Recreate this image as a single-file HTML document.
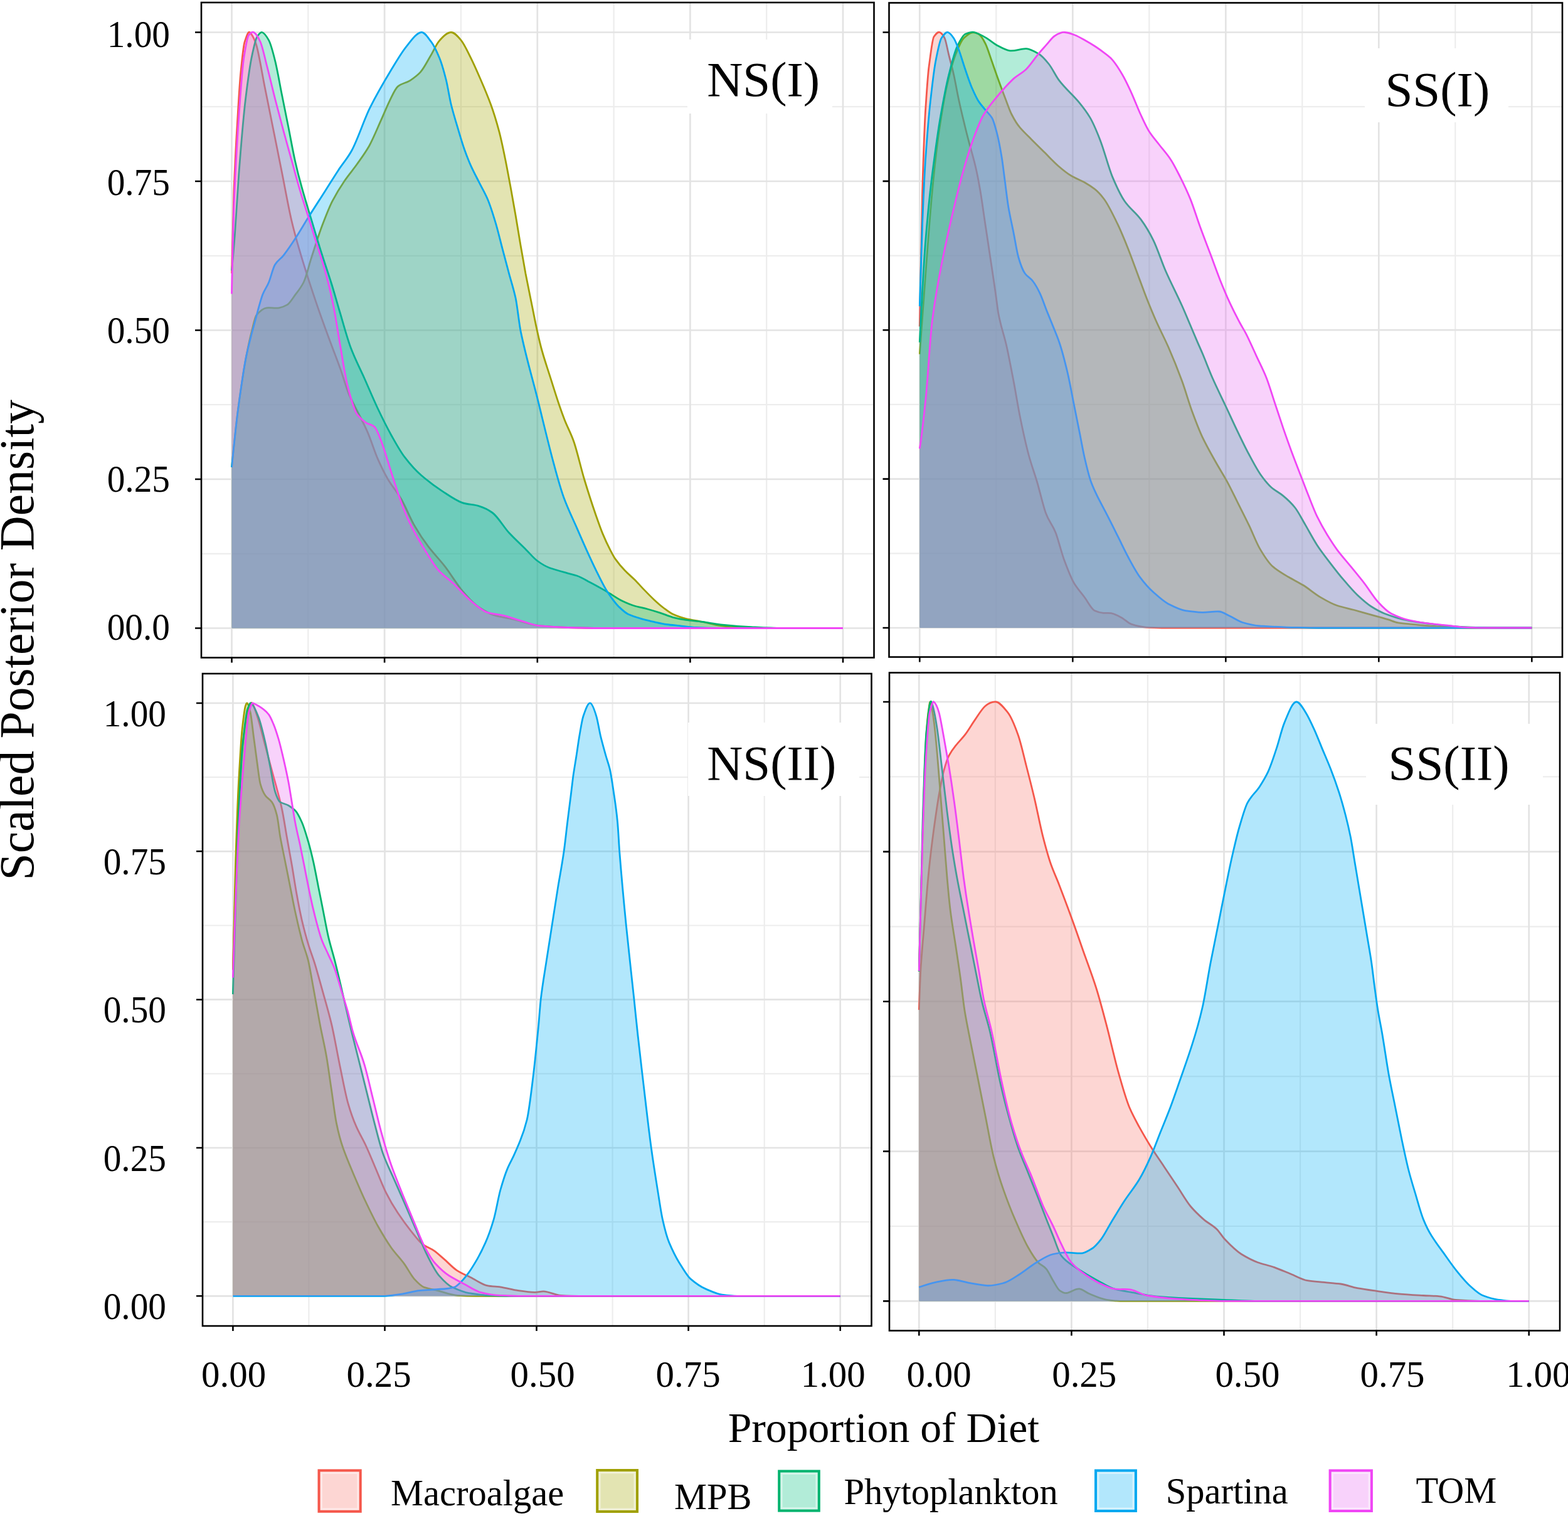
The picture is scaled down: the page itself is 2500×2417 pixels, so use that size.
<!DOCTYPE html>
<html><head><meta charset="utf-8"><title>Scaled Posterior Density</title>
<style>
html,body{margin:0;padding:0;background:#fff;width:2500px;height:2417px;overflow:hidden}
svg{display:block}
text{font-family:"Liberation Serif","Times New Roman",serif;fill:#000}
.tk{font-size:61px}
.tx{font-size:59.5px}
.pl{font-size:79px}
.ti{font-size:67.7px}
.yt{font-size:77.5px}
.lg{font-size:58.5px}
</style></head><body>
<svg xmlns="http://www.w3.org/2000/svg" width="2500" height="2417" viewBox="0 0 2500 2417">
<rect x="0" y="0" width="2500" height="2417" fill="#fff"/>
<clipPath id="cTL"><rect x="320.8" y="4" width="1071.9" height="1045"/></clipPath>
<g clip-path="url(#cTL)">
<path d="M491.3,4V1049M320.8,882.8H1392.7M734.9,4V1049M320.8,645.2H1392.7M978.6,4V1049M320.8,407.8H1392.7M1222.2,4V1049M320.8,170.2H1392.7" stroke="#EDEDED" stroke-width="2.2" fill="none"/>
<path d="M369.5,4V1049M320.8,1001.5H1392.7M613.1,4V1049M320.8,764H1392.7M856.8,4V1049M320.8,526.5H1392.7M1100.4,4V1049M320.8,289H1392.7M1344,4V1049M320.8,51.5H1392.7" stroke="#E3E3E3" stroke-width="2.7" fill="none"/>
<path d="M369.5,435.8C370.6,384.3 371.8,332.3 372.9,304.2C374.7,260.8 376.4,227.4 378.2,198.8C380,169.6 381.7,137.3 383.5,118.9C385.7,96.6 387.9,73.1 390.1,66.7C392.7,59 395.3,49.8 398,51.5C400.2,53 402.4,56.8 404.6,61C406,63.8 407.5,67.4 409,72.7C413.3,88.3 417.7,116.2 422,137.9C426.4,159.7 430.7,181.6 435.1,203.3C439.5,225.2 443.9,246.7 448.2,268.6C453.7,295.6 459.1,326.8 464.5,350.2C468.9,369 473.2,384.2 477.6,399.2C481.9,414.2 486.3,428 490.6,441.6C496.1,458.5 501.5,474.9 506.9,490.6C512.4,506.4 517.8,521.4 523.3,536.3C529.8,554.1 536.3,570.2 542.9,588.6C547.2,600.9 551.6,617.2 555.9,627.8C558.7,634.6 561.6,639.5 564.4,645.2C571.5,659.8 578.7,672.2 585.8,688.4C591.3,700.8 596.8,719 602.2,731.4C607.6,743.6 612.9,754.5 618.3,763.7C625.5,776.1 632.7,783.4 639.9,796C647.1,808.5 654.2,826.8 661.4,839C668.5,851.4 675.7,861.9 682.9,871.4C691.9,883.2 700.8,892 709.8,903.6C718.8,915.3 727.7,930.7 736.7,941.3C745.7,951.9 754.7,962.4 763.7,968.2C772.6,974 781.6,979.5 790.5,981.7C799.6,984.1 808.7,985.1 817.8,987.2C831.7,990.5 845.7,996.2 859.7,997.7C874.9,999.3 890.2,1000.2 905.5,1000.5C921.7,1000.9 938,1001.4 954.2,1001.5L1344,1001.5L1344,1001.5L369.5,1001.5Z" fill="#F8766D" fill-opacity="0.3" stroke="none"/>
<path d="M369.5,435.8C370.6,384.3 371.8,332.3 372.9,304.2C374.7,260.8 376.4,227.4 378.2,198.8C380,169.6 381.7,137.3 383.5,118.9C385.7,96.6 387.9,73.1 390.1,66.7C392.7,59 395.3,49.8 398,51.5C400.2,53 402.4,56.8 404.6,61C406,63.8 407.5,67.4 409,72.7C413.3,88.3 417.7,116.2 422,137.9C426.4,159.7 430.7,181.6 435.1,203.3C439.5,225.2 443.9,246.7 448.2,268.6C453.7,295.6 459.1,326.8 464.5,350.2C468.9,369 473.2,384.2 477.6,399.2C481.9,414.2 486.3,428 490.6,441.6C496.1,458.5 501.5,474.9 506.9,490.6C512.4,506.4 517.8,521.4 523.3,536.3C529.8,554.1 536.3,570.2 542.9,588.6C547.2,600.9 551.6,617.2 555.9,627.8C558.7,634.6 561.6,639.5 564.4,645.2C571.5,659.8 578.7,672.2 585.8,688.4C591.3,700.8 596.8,719 602.2,731.4C607.6,743.6 612.9,754.5 618.3,763.7C625.5,776.1 632.7,783.4 639.9,796C647.1,808.5 654.2,826.8 661.4,839C668.5,851.4 675.7,861.9 682.9,871.4C691.9,883.2 700.8,892 709.8,903.6C718.8,915.3 727.7,930.7 736.7,941.3C745.7,951.9 754.7,962.4 763.7,968.2C772.6,974 781.6,979.5 790.5,981.7C799.6,984.1 808.7,985.1 817.8,987.2C831.7,990.5 845.7,996.2 859.7,997.7C874.9,999.3 890.2,1000.2 905.5,1000.5C921.7,1000.9 938,1001.4 954.2,1001.5L1344,1001.5" fill="none" stroke="#F5574B" stroke-width="2.8" stroke-linejoin="round"/>
<path d="M369.5,745C372.9,710.6 376.3,677.5 379.6,652.4C384,620 388.3,590.4 392.7,567.6C395.7,552 398.7,537.9 401.7,526.5C404.1,517.2 406.5,504.9 409,502.2C414.4,496 419.9,491.2 425.3,490.8C431.9,490.3 438.4,491.7 444.9,490.8C449.3,490.2 453.6,488.5 458,485.9C462.3,483.3 466.7,475.4 471,469.6C475.4,463.8 479.7,459 484.1,450C488.4,441.2 492.7,422.2 497.1,409C502.6,392.2 508,374.6 513.5,360C519,345.5 524.4,331.3 529.8,320.8C536.3,308.2 542.9,297.7 549.4,288.2C555.9,278.7 562.5,271.2 569,262C575.5,252.8 582,244.2 588.6,232.7C595.1,221.1 601.6,204.6 608.2,190.2C612.5,180.6 616.9,169.5 621.2,160.8C625.6,152 629.9,141.6 634.3,137.9C640.8,132.5 647.3,132.6 653.9,128.3C659.3,124.7 664.8,121 670.2,115.1C675.7,109.3 681.1,98.1 686.5,89C690.9,81.7 695.2,71.4 699.6,66.1C706.1,58.2 712.6,51.5 719.2,51.5C724.4,51.5 729.7,57.6 734.9,63.9C740.2,70.1 745.5,82.1 750.8,92.7C756.1,103.3 761.3,115.4 766.6,127.5C771.9,139.7 777.2,152.1 782.5,166.5C786.9,178.4 791.3,192.7 795.7,209.2C799.2,222.2 802.7,239.6 806.2,256.7C808.8,269.6 811.4,284.2 814.1,298.5C816.7,313 819.4,328 822.1,343.4C824.7,358.8 827.4,375.5 830,390.9C832.7,406.2 835.3,421.8 837.9,435.8C841.5,454.4 845,471.1 848.5,488.5C851.1,501.7 853.8,515.7 856.5,527.6C859.1,539.4 861.7,550.8 864.4,560C868.2,573.7 872.1,584.8 875.9,596.9C881.2,613.3 886.4,630.4 891.6,645.7C894.4,653.9 897.2,661.7 900,669C905.1,682.1 910.1,690.1 915.1,704.7C920.5,720.5 926,745.5 931.4,763.5C937.5,783.7 943.5,802.4 949.6,820C953.4,830.8 957.1,841.7 960.8,850.6C964.9,860.5 969,869.3 973.1,877.1C975.8,882.3 978.5,887.6 981.2,891.4C986.3,898.6 991.4,904.6 996.5,909.8C1001.6,915.1 1006.6,919 1011.7,924.1C1016.8,929.2 1022,935.1 1027.1,940.4C1032.2,945.7 1037.3,951 1042.4,955.7C1047.5,960.5 1052.7,965.2 1057.8,969C1062.9,972.8 1068,976.9 1073.1,979.2C1079.9,982.2 1086.7,984.8 1093.5,986.3C1102.3,988.3 1111.1,989.6 1120,991.4C1129.7,993.4 1139.4,996.3 1149.1,997.7C1158.8,999.1 1168.6,1000.2 1178.3,1000.5C1191.3,1001 1204.3,1001.4 1217.3,1001.5L1344,1001.5L1344,1001.5L369.5,1001.5Z" fill="#A3A500" fill-opacity="0.3" stroke="none"/>
<path d="M369.5,745C372.9,710.6 376.3,677.5 379.6,652.4C384,620 388.3,590.4 392.7,567.6C395.7,552 398.7,537.9 401.7,526.5C404.1,517.2 406.5,504.9 409,502.2C414.4,496 419.9,491.2 425.3,490.8C431.9,490.3 438.4,491.7 444.9,490.8C449.3,490.2 453.6,488.5 458,485.9C462.3,483.3 466.7,475.4 471,469.6C475.4,463.8 479.7,459 484.1,450C488.4,441.2 492.7,422.2 497.1,409C502.6,392.2 508,374.6 513.5,360C519,345.5 524.4,331.3 529.8,320.8C536.3,308.2 542.9,297.7 549.4,288.2C555.9,278.7 562.5,271.2 569,262C575.5,252.8 582,244.2 588.6,232.7C595.1,221.1 601.6,204.6 608.2,190.2C612.5,180.6 616.9,169.5 621.2,160.8C625.6,152 629.9,141.6 634.3,137.9C640.8,132.5 647.3,132.6 653.9,128.3C659.3,124.7 664.8,121 670.2,115.1C675.7,109.3 681.1,98.1 686.5,89C690.9,81.7 695.2,71.4 699.6,66.1C706.1,58.2 712.6,51.5 719.2,51.5C724.4,51.5 729.7,57.6 734.9,63.9C740.2,70.1 745.5,82.1 750.8,92.7C756.1,103.3 761.3,115.4 766.6,127.5C771.9,139.7 777.2,152.1 782.5,166.5C786.9,178.4 791.3,192.7 795.7,209.2C799.2,222.2 802.7,239.6 806.2,256.7C808.8,269.6 811.4,284.2 814.1,298.5C816.7,313 819.4,328 822.1,343.4C824.7,358.8 827.4,375.5 830,390.9C832.7,406.2 835.3,421.8 837.9,435.8C841.5,454.4 845,471.1 848.5,488.5C851.1,501.7 853.8,515.7 856.5,527.6C859.1,539.4 861.7,550.8 864.4,560C868.2,573.7 872.1,584.8 875.9,596.9C881.2,613.3 886.4,630.4 891.6,645.7C894.4,653.9 897.2,661.7 900,669C905.1,682.1 910.1,690.1 915.1,704.7C920.5,720.5 926,745.5 931.4,763.5C937.5,783.7 943.5,802.4 949.6,820C953.4,830.8 957.1,841.7 960.8,850.6C964.9,860.5 969,869.3 973.1,877.1C975.8,882.3 978.5,887.6 981.2,891.4C986.3,898.6 991.4,904.6 996.5,909.8C1001.6,915.1 1006.6,919 1011.7,924.1C1016.8,929.2 1022,935.1 1027.1,940.4C1032.2,945.7 1037.3,951 1042.4,955.7C1047.5,960.5 1052.7,965.2 1057.8,969C1062.9,972.8 1068,976.9 1073.1,979.2C1079.9,982.2 1086.7,984.8 1093.5,986.3C1102.3,988.3 1111.1,989.6 1120,991.4C1129.7,993.4 1139.4,996.3 1149.1,997.7C1158.8,999.1 1168.6,1000.2 1178.3,1000.5C1191.3,1001 1204.3,1001.4 1217.3,1001.5L1344,1001.5" fill="none" stroke="#A0A000" stroke-width="2.8" stroke-linejoin="round"/>
<path d="M369.5,431.5C371.1,415.9 372.7,395.9 374.4,374.5C376.5,346.2 378.7,305.3 380.8,277.6C384.3,231.9 387.9,188 391.4,158.9C394.9,130 398.4,103.4 402,87.6C404.6,75.6 407.3,62.4 409.9,58.5C412.6,54.7 415.2,50.9 417.8,51.5C421.3,52.3 424.9,57.7 428.4,63.9C431.9,70 435.4,83.8 438.9,98.1C442.4,112.3 445.9,133.3 449.4,150.8C452.9,168.4 456.5,185.7 460,203.5C463.5,221 467,241.2 470.5,256.7C474,272.5 477.5,285.8 481.1,298.5C486.3,317.3 491.6,334.2 496.9,351.7C502.2,369.3 507.5,387.2 512.8,404C517.9,420.4 523.1,434.7 528.3,451.5C532.9,466.1 537.4,482.8 542,498C547.7,517.1 553.4,538.9 559.1,554C566.3,573.1 573.5,586.4 580.7,602.5C587.9,618.7 595,635.8 602.2,651C609.4,666.2 616.6,680.8 623.8,693.7C631,706.5 638.1,719.6 645.3,728.9C654.2,740.5 663.2,750.6 672.2,758.3C683,767.5 693.7,775.6 704.5,782.6C715.3,789.6 726,797.5 736.7,801.4C745.7,804.7 754.7,804.1 763.7,806.8C770.9,808.9 778,812.2 785.2,817.5C794.1,824 803,840.2 811.9,849.8C821,859.5 830,867.7 839,876.7C844.8,882.4 850.6,889.6 856.5,894C863,898.8 869.5,902.8 875.9,905.2C885.3,908.5 894.6,911 903.9,913.6C909.3,915.2 914.6,916.1 920,918C926.8,920.4 933.6,924.6 940.4,928.2C947.2,931.7 954,935.5 960.8,939.4C965.9,942.3 971,945.5 976.1,948.6C981.2,951.7 986.3,955.3 991.4,957.8C998.2,961.1 1004.9,964 1011.7,966C1018.5,968 1025.3,969.1 1032.2,971C1039,972.9 1045.8,974.9 1052.6,977.1C1059.4,979.3 1066.3,982.5 1073.1,984.3C1079.9,986.1 1086.7,987.4 1093.5,988.4C1102.3,989.6 1111.1,990.2 1120,991.4C1129.7,992.7 1139.4,994.8 1149.1,995.8C1165.3,997.5 1181.6,998.8 1197.8,999.6C1214.1,1000.4 1230.3,1001.3 1246.6,1001.5L1344,1001.5L1344,1001.5L369.5,1001.5Z" fill="#00BF7D" fill-opacity="0.3" stroke="none"/>
<path d="M369.5,431.5C371.1,415.9 372.7,395.9 374.4,374.5C376.5,346.2 378.7,305.3 380.8,277.6C384.3,231.9 387.9,188 391.4,158.9C394.9,130 398.4,103.4 402,87.6C404.6,75.6 407.3,62.4 409.9,58.5C412.6,54.7 415.2,50.9 417.8,51.5C421.3,52.3 424.9,57.7 428.4,63.9C431.9,70 435.4,83.8 438.9,98.1C442.4,112.3 445.9,133.3 449.4,150.8C452.9,168.4 456.5,185.7 460,203.5C463.5,221 467,241.2 470.5,256.7C474,272.5 477.5,285.8 481.1,298.5C486.3,317.3 491.6,334.2 496.9,351.7C502.2,369.3 507.5,387.2 512.8,404C517.9,420.4 523.1,434.7 528.3,451.5C532.9,466.1 537.4,482.8 542,498C547.7,517.1 553.4,538.9 559.1,554C566.3,573.1 573.5,586.4 580.7,602.5C587.9,618.7 595,635.8 602.2,651C609.4,666.2 616.6,680.8 623.8,693.7C631,706.5 638.1,719.6 645.3,728.9C654.2,740.5 663.2,750.6 672.2,758.3C683,767.5 693.7,775.6 704.5,782.6C715.3,789.6 726,797.5 736.7,801.4C745.7,804.7 754.7,804.1 763.7,806.8C770.9,808.9 778,812.2 785.2,817.5C794.1,824 803,840.2 811.9,849.8C821,859.5 830,867.7 839,876.7C844.8,882.4 850.6,889.6 856.5,894C863,898.8 869.5,902.8 875.9,905.2C885.3,908.5 894.6,911 903.9,913.6C909.3,915.2 914.6,916.1 920,918C926.8,920.4 933.6,924.6 940.4,928.2C947.2,931.7 954,935.5 960.8,939.4C965.9,942.3 971,945.5 976.1,948.6C981.2,951.7 986.3,955.3 991.4,957.8C998.2,961.1 1004.9,964 1011.7,966C1018.5,968 1025.3,969.1 1032.2,971C1039,972.9 1045.8,974.9 1052.6,977.1C1059.4,979.3 1066.3,982.5 1073.1,984.3C1079.9,986.1 1086.7,987.4 1093.5,988.4C1102.3,989.6 1111.1,990.2 1120,991.4C1129.7,992.7 1139.4,994.8 1149.1,995.8C1165.3,997.5 1181.6,998.8 1197.8,999.6C1214.1,1000.4 1230.3,1001.3 1246.6,1001.5L1344,1001.5" fill="none" stroke="#00B36E" stroke-width="2.8" stroke-linejoin="round"/>
<path d="M369.5,745C372.9,710.6 376.3,677.6 379.6,652.4C384,619.9 388.3,588.2 392.7,567.6C397,547.1 401.4,531.3 405.8,515.3C410.1,499.3 414.5,481.2 418.8,469.6C422.1,461 425.3,458 428.6,450C431.8,442 435.1,427.5 438.4,422C443,414.2 447.7,413 452.3,406.8C458.5,398.6 464.7,389.6 470.8,380.2C477.9,369.5 484.9,357.2 491.9,346C500.8,331.8 509.7,318.2 518.6,304.2C525.4,293.5 532.2,282.4 539.1,271.9C546.2,260.9 553.4,253.4 560.5,240.5C570.2,223 580,191.7 589.7,172.1C601.1,149.3 612.5,130 623.8,111.3C631.6,98.6 639.4,85.1 647.2,75.2C655.4,65 663.5,52.7 671.6,51.5C676.9,50.7 682.2,59.9 687.5,66.7C691.9,72.4 696.4,82.2 700.8,92.7C704.3,101 707.8,113.7 711.3,127.5C713.9,138.1 716.6,155.6 719.2,166.5C722.7,180.6 726.2,191.9 729.7,203.5C733.2,215.4 736.8,227.7 740.3,237.7C743.8,247.6 747.3,256.6 750.8,264.3C755.2,274 759.6,282.1 764,290.9C768.4,299.7 772.8,306.9 777.2,317C781.6,327.2 786.1,341.6 790.5,356.4C794,368.3 797.5,383.1 801,396.4C804.5,409.6 808,422.6 811.5,435.8C815,448.9 818.5,458.9 822.1,475.2C824.8,487.9 827.5,515.1 830.2,528.4C838.9,570.5 847.6,598.2 856.3,632.9C865,667.8 873.7,705.2 882.4,737.3C887.8,757.5 893.3,778.1 898.8,792.9C905.8,812 912.9,826.1 920,842.4C925.1,854.1 930.2,865.9 935.3,877.1C940.4,888.4 945.5,899.5 950.6,909.8C955.7,920.2 960.8,930.8 965.9,939.4C969.3,945.1 972.7,950.2 976.1,954.7C979.5,959.1 982.9,963.7 986.3,966.9C991.4,971.8 996.5,976.9 1001.6,979.2C1008.4,982.2 1015.2,984.4 1022,986.3C1028.8,988.1 1035.6,989.9 1042.4,991.4C1049.2,992.9 1056,994.6 1062.8,995.5C1069.6,996.4 1076.4,996.9 1083.2,997.6C1092.2,998.6 1101.2,1000.1 1110.1,1000.5C1123.1,1001.1 1136.1,1001.4 1149.1,1001.5L1344,1001.5L1344,1001.5L369.5,1001.5Z" fill="#00B0F6" fill-opacity="0.3" stroke="none"/>
<path d="M369.5,745C372.9,710.6 376.3,677.6 379.6,652.4C384,619.9 388.3,588.2 392.7,567.6C397,547.1 401.4,531.3 405.8,515.3C410.1,499.3 414.5,481.2 418.8,469.6C422.1,461 425.3,458 428.6,450C431.8,442 435.1,427.5 438.4,422C443,414.2 447.7,413 452.3,406.8C458.5,398.6 464.7,389.6 470.8,380.2C477.9,369.5 484.9,357.2 491.9,346C500.8,331.8 509.7,318.2 518.6,304.2C525.4,293.5 532.2,282.4 539.1,271.9C546.2,260.9 553.4,253.4 560.5,240.5C570.2,223 580,191.7 589.7,172.1C601.1,149.3 612.5,130 623.8,111.3C631.6,98.6 639.4,85.1 647.2,75.2C655.4,65 663.5,52.7 671.6,51.5C676.9,50.7 682.2,59.9 687.5,66.7C691.9,72.4 696.4,82.2 700.8,92.7C704.3,101 707.8,113.7 711.3,127.5C713.9,138.1 716.6,155.6 719.2,166.5C722.7,180.6 726.2,191.9 729.7,203.5C733.2,215.4 736.8,227.7 740.3,237.7C743.8,247.6 747.3,256.6 750.8,264.3C755.2,274 759.6,282.1 764,290.9C768.4,299.7 772.8,306.9 777.2,317C781.6,327.2 786.1,341.6 790.5,356.4C794,368.3 797.5,383.1 801,396.4C804.5,409.6 808,422.6 811.5,435.8C815,448.9 818.5,458.9 822.1,475.2C824.8,487.9 827.5,515.1 830.2,528.4C838.9,570.5 847.6,598.2 856.3,632.9C865,667.8 873.7,705.2 882.4,737.3C887.8,757.5 893.3,778.1 898.8,792.9C905.8,812 912.9,826.1 920,842.4C925.1,854.1 930.2,865.9 935.3,877.1C940.4,888.4 945.5,899.5 950.6,909.8C955.7,920.2 960.8,930.8 965.9,939.4C969.3,945.1 972.7,950.2 976.1,954.7C979.5,959.1 982.9,963.7 986.3,966.9C991.4,971.8 996.5,976.9 1001.6,979.2C1008.4,982.2 1015.2,984.4 1022,986.3C1028.8,988.1 1035.6,989.9 1042.4,991.4C1049.2,992.9 1056,994.6 1062.8,995.5C1069.6,996.4 1076.4,996.9 1083.2,997.6C1092.2,998.6 1101.2,1000.1 1110.1,1000.5C1123.1,1001.1 1136.1,1001.4 1149.1,1001.5L1344,1001.5" fill="none" stroke="#00A8F0" stroke-width="2.8" stroke-linejoin="round"/>
<path d="M369.5,468.5C370.6,413.6 371.8,356.8 372.9,330.2C375.5,268.7 378.2,220.3 380.8,185.5C383.4,150.6 386.1,109.3 388.7,92.7C391.4,75.9 394,58.7 396.7,55.8C399.3,52.9 402,49.9 404.6,51.5C408.1,53.7 411.6,58.8 415.1,66.7C418.6,74.7 422.2,92 425.7,105.7C430.1,122.6 434.5,141.7 438.9,158.9C443.3,176.2 447.7,192.9 452.1,209.2C456.5,225.4 460.9,240.9 465.3,256.7C469.7,272.6 474.1,289.3 478.5,304.2C482.9,318.9 487.3,332 491.6,346C496,360.1 500.4,374.2 504.8,388.3C509.2,402.4 513.6,415 518,430.6C522.6,446.7 527.2,465.9 531.8,488.5C535.5,506.9 539.2,532.9 543,554C546.5,574.3 550.1,598.7 553.7,613C559.1,634.5 564.5,654.9 569.9,661.4C574.4,666.9 578.9,670.7 583.4,673.8C587.9,676.8 592.4,676.4 596.9,680.4C601.3,684.4 605.8,698 610.2,709.9C614.7,722 619.3,739 623.8,753C629.2,769.5 634.6,787.3 639.9,801.4C645.3,815.6 650.6,828.5 656,839C663.1,853.1 670.3,865.2 677.4,876.7C684.6,888.2 691.7,901 698.9,909C707,918 715.1,922.9 723.2,930.6C732.2,939.2 741.2,949.9 750.2,957.5C759.1,965 768,973.5 776.8,976.3C785.9,979.2 795,979.3 804,981.7C813,984.2 822,987.2 831,989.8C840.6,992.6 850.1,996.7 859.7,997.7C874.9,999.3 890.2,1000.2 905.5,1000.5C921.7,1000.9 938,1001.4 954.2,1001.5L1344,1001.5L1344,1001.5L369.5,1001.5Z" fill="#E76BF3" fill-opacity="0.3" stroke="none"/>
<path d="M369.5,468.5C370.6,413.6 371.8,356.8 372.9,330.2C375.5,268.7 378.2,220.3 380.8,185.5C383.4,150.6 386.1,109.3 388.7,92.7C391.4,75.9 394,58.7 396.7,55.8C399.3,52.9 402,49.9 404.6,51.5C408.1,53.7 411.6,58.8 415.1,66.7C418.6,74.7 422.2,92 425.7,105.7C430.1,122.6 434.5,141.7 438.9,158.9C443.3,176.2 447.7,192.9 452.1,209.2C456.5,225.4 460.9,240.9 465.3,256.7C469.7,272.6 474.1,289.3 478.5,304.2C482.9,318.9 487.3,332 491.6,346C496,360.1 500.4,374.2 504.8,388.3C509.2,402.4 513.6,415 518,430.6C522.6,446.7 527.2,465.9 531.8,488.5C535.5,506.9 539.2,532.9 543,554C546.5,574.3 550.1,598.7 553.7,613C559.1,634.5 564.5,654.9 569.9,661.4C574.4,666.9 578.9,670.7 583.4,673.8C587.9,676.8 592.4,676.4 596.9,680.4C601.3,684.4 605.8,698 610.2,709.9C614.7,722 619.3,739 623.8,753C629.2,769.5 634.6,787.3 639.9,801.4C645.3,815.6 650.6,828.5 656,839C663.1,853.1 670.3,865.2 677.4,876.7C684.6,888.2 691.7,901 698.9,909C707,918 715.1,922.9 723.2,930.6C732.2,939.2 741.2,949.9 750.2,957.5C759.1,965 768,973.5 776.8,976.3C785.9,979.2 795,979.3 804,981.7C813,984.2 822,987.2 831,989.8C840.6,992.6 850.1,996.7 859.7,997.7C874.9,999.3 890.2,1000.2 905.5,1000.5C921.7,1000.9 938,1001.4 954.2,1001.5L1344,1001.5" fill="none" stroke="#F046F5" stroke-width="2.8" stroke-linejoin="round"/>
</g>
<rect x="1096" y="63" width="231" height="118" fill="#fff"/>
<text x="1127.2" y="152.9" class="pl">NS(I)</text>
<rect x="321" y="4" width="1072.5" height="1044.5" fill="none" stroke="#000" stroke-width="2.6"/>
<path d="M311,1001.5H321M369.5,1048.5V1056.5M311,764H321M613.1,1048.5V1056.5M311,526.5H321M856.8,1048.5V1056.5M311,289H321M1100.4,1048.5V1056.5M311,51.5H321M1344,1048.5V1056.5" stroke="#000" stroke-width="2.6" fill="none"/>
<clipPath id="cTR"><rect x="1417.5" y="4" width="1073.6" height="1044.4"/></clipPath>
<g clip-path="url(#cTR)">
<path d="M1588.3,4V1048.5M1417.5,882.3H2491.1M1832.3,4V1048.5M1417.5,644.9H2491.1M2076.3,4V1048.5M1417.5,407.6H2491.1M2320.3,4V1048.5M1417.5,170.2H2491.1" stroke="#EDEDED" stroke-width="2.2" fill="none"/>
<path d="M1466.3,4V1048.5M1417.5,1001H2491.1M1710.3,4V1048.5M1417.5,763.6H2491.1M1954.3,4V1048.5M1417.5,526.2H2491.1M2198.3,4V1048.5M1417.5,288.9H2491.1M2442.3,4V1048.5M1417.5,51.5H2491.1" stroke="#E3E3E3" stroke-width="2.7" fill="none"/>
<path d="M1466.3,520.6C1467.7,435.6 1469.2,350.1 1470.6,304.1C1472.3,248.6 1474,197.8 1475.8,172.1C1477.6,145.4 1479.3,119.1 1481.1,106C1483.8,86.7 1486.4,62.2 1489,58.5C1492.1,54.2 1495.2,50.1 1498.3,51.5C1500.9,52.7 1503.6,55.2 1506.2,61C1508.4,65.8 1510.6,78.8 1512.8,87.6C1515.4,98.2 1518,107.5 1520.7,119.2C1523.3,130.9 1525.9,146.6 1528.6,158.8C1531.2,171 1533.8,182 1536.5,193C1539.1,203.9 1541.7,214.5 1544.4,224.7C1547.9,238.4 1551.5,249.3 1555,264.2C1557.7,275.2 1560.3,288.8 1562.9,304.1C1565.5,319.2 1568.1,338.9 1570.7,356.3C1573.4,374.1 1576.1,391.7 1578.7,409.5C1581.4,427 1584,443.9 1586.6,462.2C1588.4,474.1 1590.1,490.4 1591.8,499.7C1596.3,523.8 1600.8,533 1605.3,553.8C1608.9,570.3 1612.4,588.8 1616,607.6C1619.6,626.4 1623.2,649.3 1626.8,666.8C1631.3,688.9 1635.8,709.5 1640.3,726C1644.8,742.3 1649.2,753.8 1653.7,769C1658.2,784.4 1662.7,804.9 1667.2,817.5C1672.5,832.5 1677.9,835.6 1683.3,849.8C1687.8,861.8 1692.2,880.7 1696.7,892.8C1702.1,907.3 1707.5,921.8 1712.9,930.5C1718.3,939.1 1723.7,944.8 1729,952C1734.4,959.2 1739.8,970.7 1745.1,973.5C1749.8,975.8 1754.4,976.8 1759.1,977.3C1763.2,977.7 1767.4,977.1 1771.5,977.7C1776.9,978.6 1782.3,981.6 1787.7,984.4C1793.1,987.1 1798.4,993.4 1803.8,995.2C1811.7,997.8 1819.5,999.7 1827.4,1000.1C1837.2,1000.5 1846.9,1001 1856.7,1001L2442.3,1001L2442.3,1001L1466.3,1001Z" fill="#F8766D" fill-opacity="0.3" stroke="none"/>
<path d="M1466.3,520.6C1467.7,435.6 1469.2,350.1 1470.6,304.1C1472.3,248.6 1474,197.8 1475.8,172.1C1477.6,145.4 1479.3,119.1 1481.1,106C1483.8,86.7 1486.4,62.2 1489,58.5C1492.1,54.2 1495.2,50.1 1498.3,51.5C1500.9,52.7 1503.6,55.2 1506.2,61C1508.4,65.8 1510.6,78.8 1512.8,87.6C1515.4,98.2 1518,107.5 1520.7,119.2C1523.3,130.9 1525.9,146.6 1528.6,158.8C1531.2,171 1533.8,182 1536.5,193C1539.1,203.9 1541.7,214.5 1544.4,224.7C1547.9,238.4 1551.5,249.3 1555,264.2C1557.7,275.2 1560.3,288.8 1562.9,304.1C1565.5,319.2 1568.1,338.9 1570.7,356.3C1573.4,374.1 1576.1,391.7 1578.7,409.5C1581.4,427 1584,443.9 1586.6,462.2C1588.4,474.1 1590.1,490.4 1591.8,499.7C1596.3,523.8 1600.8,533 1605.3,553.8C1608.9,570.3 1612.4,588.8 1616,607.6C1619.6,626.4 1623.2,649.3 1626.8,666.8C1631.3,688.9 1635.8,709.5 1640.3,726C1644.8,742.3 1649.2,753.8 1653.7,769C1658.2,784.4 1662.7,804.9 1667.2,817.5C1672.5,832.5 1677.9,835.6 1683.3,849.8C1687.8,861.8 1692.2,880.7 1696.7,892.8C1702.1,907.3 1707.5,921.8 1712.9,930.5C1718.3,939.1 1723.7,944.8 1729,952C1734.4,959.2 1739.8,970.7 1745.1,973.5C1749.8,975.8 1754.4,976.8 1759.1,977.3C1763.2,977.7 1767.4,977.1 1771.5,977.7C1776.9,978.6 1782.3,981.6 1787.7,984.4C1793.1,987.1 1798.4,993.4 1803.8,995.2C1811.7,997.8 1819.5,999.7 1827.4,1000.1C1837.2,1000.5 1846.9,1001 1856.7,1001L2442.3,1001" fill="none" stroke="#F5574B" stroke-width="2.8" stroke-linejoin="round"/>
<path d="M1466.3,564.6C1469.5,520 1472.6,477 1475.8,436C1479.3,390.1 1482.9,340.6 1486.4,304.1C1489.9,267.9 1493.4,235.3 1496.9,211.5C1501.3,181.7 1505.7,153.8 1510.1,135.1C1514.5,116.3 1518.9,98.4 1523.3,87.6C1527.7,76.8 1532.1,65.2 1536.5,61C1540.9,56.8 1545.3,52.7 1549.7,52C1553.3,51.4 1556.8,52.5 1560.3,54.3C1563.8,56.2 1567.3,62.2 1570.8,69C1574.4,75.8 1577.9,88.2 1581.5,98C1584.9,107.7 1588.4,117.9 1591.9,127.5C1595.4,137.2 1598.9,146.8 1602.5,155.9C1606,165.1 1609.5,175.6 1613,182.5C1617.4,191.1 1621.8,198.3 1626.2,203.4C1632.4,210.6 1638.5,216.2 1644.7,222.4C1651.7,229.5 1658.8,236.3 1665.8,243.3C1672.8,250.3 1679.8,258.1 1686.9,264.2C1693.9,270.3 1700.9,276.1 1708,280.3C1715,284.6 1722.1,286.8 1729.1,290.8C1734.4,293.8 1739.7,297.2 1745,301.2C1750,305 1755,310.5 1760,317C1767.2,326.4 1774.4,341.8 1781.6,356.7C1786.9,367.5 1792.2,380.6 1797.5,393.7C1802.8,406.9 1808.1,421.7 1813.4,435.9C1818.6,449.9 1823.9,464.7 1829.2,478.1C1833.6,489.2 1838,499.9 1842.4,509.8C1849.2,525.4 1856.1,538 1863,553.8C1870.2,570.2 1877.4,588 1884.6,607.6C1890,622.3 1895.3,641.4 1900.7,656.1C1906.1,670.8 1911.5,685.1 1916.8,696.4C1924,711.5 1931.2,723.9 1938.4,736.8C1944.7,748 1950.9,757.5 1957.2,769.1C1962.6,779.1 1968,790.6 1973.4,801.4C1979.7,813.9 1985.9,826.1 1992.2,839.1C1997.5,850.3 2002.9,864.8 2008.3,874.1C2015.5,886.4 2022.7,897.8 2029.8,903.7C2037.9,910.3 2046,915 2054.1,919.8C2062.2,924.6 2070.2,928.3 2078.3,933.3C2087.2,938.9 2096.2,946.8 2105.2,952.1C2114.2,957.4 2123.1,962.6 2132.1,965.5C2141.1,968.4 2150,970.1 2159,972.5C2168,975 2177,977.6 2186,980.1C2195,982.6 2204,985 2212.9,987.7C2218.3,989.3 2223.7,992 2229,992.9C2236,994.1 2243,994.6 2250,995.2C2265.3,996.6 2280.6,998.3 2295.9,999.1C2312.2,1000 2328.4,1000.8 2344.7,1001L2442.3,1001L2442.3,1001L1466.3,1001Z" fill="#A3A500" fill-opacity="0.3" stroke="none"/>
<path d="M1466.3,564.6C1469.5,520 1472.6,477 1475.8,436C1479.3,390.1 1482.9,340.6 1486.4,304.1C1489.9,267.9 1493.4,235.3 1496.9,211.5C1501.3,181.7 1505.7,153.8 1510.1,135.1C1514.5,116.3 1518.9,98.4 1523.3,87.6C1527.7,76.8 1532.1,65.2 1536.5,61C1540.9,56.8 1545.3,52.7 1549.7,52C1553.3,51.4 1556.8,52.5 1560.3,54.3C1563.8,56.2 1567.3,62.2 1570.8,69C1574.4,75.8 1577.9,88.2 1581.5,98C1584.9,107.7 1588.4,117.9 1591.9,127.5C1595.4,137.2 1598.9,146.8 1602.5,155.9C1606,165.1 1609.5,175.6 1613,182.5C1617.4,191.1 1621.8,198.3 1626.2,203.4C1632.4,210.6 1638.5,216.2 1644.7,222.4C1651.7,229.5 1658.8,236.3 1665.8,243.3C1672.8,250.3 1679.8,258.1 1686.9,264.2C1693.9,270.3 1700.9,276.1 1708,280.3C1715,284.6 1722.1,286.8 1729.1,290.8C1734.4,293.8 1739.7,297.2 1745,301.2C1750,305 1755,310.5 1760,317C1767.2,326.4 1774.4,341.8 1781.6,356.7C1786.9,367.5 1792.2,380.6 1797.5,393.7C1802.8,406.9 1808.1,421.7 1813.4,435.9C1818.6,449.9 1823.9,464.7 1829.2,478.1C1833.6,489.2 1838,499.9 1842.4,509.8C1849.2,525.4 1856.1,538 1863,553.8C1870.2,570.2 1877.4,588 1884.6,607.6C1890,622.3 1895.3,641.4 1900.7,656.1C1906.1,670.8 1911.5,685.1 1916.8,696.4C1924,711.5 1931.2,723.9 1938.4,736.8C1944.7,748 1950.9,757.5 1957.2,769.1C1962.6,779.1 1968,790.6 1973.4,801.4C1979.7,813.9 1985.9,826.1 1992.2,839.1C1997.5,850.3 2002.9,864.8 2008.3,874.1C2015.5,886.4 2022.7,897.8 2029.8,903.7C2037.9,910.3 2046,915 2054.1,919.8C2062.2,924.6 2070.2,928.3 2078.3,933.3C2087.2,938.9 2096.2,946.8 2105.2,952.1C2114.2,957.4 2123.1,962.6 2132.1,965.5C2141.1,968.4 2150,970.1 2159,972.5C2168,975 2177,977.6 2186,980.1C2195,982.6 2204,985 2212.9,987.7C2218.3,989.3 2223.7,992 2229,992.9C2236,994.1 2243,994.6 2250,995.2C2265.3,996.6 2280.6,998.3 2295.9,999.1C2312.2,1000 2328.4,1000.8 2344.7,1001L2442.3,1001" fill="none" stroke="#A0A000" stroke-width="2.8" stroke-linejoin="round"/>
<path d="M1466.3,545.7C1469.5,482.9 1472.6,420.8 1475.8,382.9C1479.3,340.3 1482.9,305.1 1486.4,277.5C1490.8,243.2 1495.2,210.4 1499.6,185.4C1504,160.4 1508.4,136.6 1512.8,119.2C1517.2,101.7 1521.6,83.2 1526,74.3C1530.4,65.4 1534.8,56.1 1539.2,54.3C1544,52.4 1548.8,50.1 1553.7,51.5C1559.4,53.2 1565.2,56.3 1571,59.6C1577.6,63.3 1584.1,69.2 1590.6,72.7C1597.1,76.2 1603.7,80 1610.2,80.8C1618.9,81.9 1627.6,77.1 1636.3,77.6C1642.9,78 1649.4,82 1655.9,85.7C1661.4,88.8 1666.8,95.2 1672.2,102C1677.7,108.8 1683.2,121 1688.6,128.2C1699.5,142.6 1710.4,150.8 1721.2,164.1C1726.7,170.8 1732.2,177.9 1737.6,186.9C1743.1,195.8 1748.5,209.1 1753.9,222.9C1760.5,239.5 1767,265.7 1773.5,281.6C1780.1,297.3 1786.6,311.4 1793.1,320.8C1801.8,333.3 1810.5,338.3 1819.2,350.2C1825.8,359.2 1832.3,369.7 1838.8,382.9C1845.3,396 1851.9,416.8 1858.4,431.8C1867.1,451.8 1875.8,467.7 1884.5,487.3C1892,504.1 1899.5,522.8 1907,540.1C1910.3,548 1913.7,555.3 1917.1,563.3C1922.4,575.8 1927.7,590.1 1933,602.2C1940.2,618.5 1947.3,632.7 1954.5,648C1960.8,661.4 1967.1,675.3 1973.4,688.4C1979.7,701.4 1985.9,714.5 1992.2,726C1998.4,737.7 2004.7,749.6 2011,758.3C2016.4,765.8 2021.8,772.5 2027.2,777.2C2033.5,782.7 2039.8,785.4 2046,790.6C2052.3,795.8 2058.6,801.5 2064.9,809.5C2070.2,816.3 2075.6,827.2 2081,836.4C2087.2,847 2093.5,859.2 2099.7,868.7C2106.9,879.8 2114.2,888.9 2121.4,898.3C2128.5,907.6 2135.7,916.9 2142.9,925.2C2150,933.6 2157.2,942 2164.3,948.8C2171.6,955.6 2178.8,962.2 2186,966.8C2193.2,971.4 2200.3,975.5 2207.5,978.2C2216.5,981.6 2225.4,984.7 2234.4,986.8C2243.2,988.8 2252,990.7 2260.8,992C2276.6,994.2 2292.4,996.4 2308.2,997.7C2320.4,998.6 2332.5,999.7 2344.7,1000.1C2361,1000.5 2377.2,1000.9 2393.5,1001L2442.3,1001L2442.3,1001L1466.3,1001Z" fill="#00BF7D" fill-opacity="0.3" stroke="none"/>
<path d="M1466.3,545.7C1469.5,482.9 1472.6,420.8 1475.8,382.9C1479.3,340.3 1482.9,305.1 1486.4,277.5C1490.8,243.2 1495.2,210.4 1499.6,185.4C1504,160.4 1508.4,136.6 1512.8,119.2C1517.2,101.7 1521.6,83.2 1526,74.3C1530.4,65.4 1534.8,56.1 1539.2,54.3C1544,52.4 1548.8,50.1 1553.7,51.5C1559.4,53.2 1565.2,56.3 1571,59.6C1577.6,63.3 1584.1,69.2 1590.6,72.7C1597.1,76.2 1603.7,80 1610.2,80.8C1618.9,81.9 1627.6,77.1 1636.3,77.6C1642.9,78 1649.4,82 1655.9,85.7C1661.4,88.8 1666.8,95.2 1672.2,102C1677.7,108.8 1683.2,121 1688.6,128.2C1699.5,142.6 1710.4,150.8 1721.2,164.1C1726.7,170.8 1732.2,177.9 1737.6,186.9C1743.1,195.8 1748.5,209.1 1753.9,222.9C1760.5,239.5 1767,265.7 1773.5,281.6C1780.1,297.3 1786.6,311.4 1793.1,320.8C1801.8,333.3 1810.5,338.3 1819.2,350.2C1825.8,359.2 1832.3,369.7 1838.8,382.9C1845.3,396 1851.9,416.8 1858.4,431.8C1867.1,451.8 1875.8,467.7 1884.5,487.3C1892,504.1 1899.5,522.8 1907,540.1C1910.3,548 1913.7,555.3 1917.1,563.3C1922.4,575.8 1927.7,590.1 1933,602.2C1940.2,618.5 1947.3,632.7 1954.5,648C1960.8,661.4 1967.1,675.3 1973.4,688.4C1979.7,701.4 1985.9,714.5 1992.2,726C1998.4,737.7 2004.7,749.6 2011,758.3C2016.4,765.8 2021.8,772.5 2027.2,777.2C2033.5,782.7 2039.8,785.4 2046,790.6C2052.3,795.8 2058.6,801.5 2064.9,809.5C2070.2,816.3 2075.6,827.2 2081,836.4C2087.2,847 2093.5,859.2 2099.7,868.7C2106.9,879.8 2114.2,888.9 2121.4,898.3C2128.5,907.6 2135.7,916.9 2142.9,925.2C2150,933.6 2157.2,942 2164.3,948.8C2171.6,955.6 2178.8,962.2 2186,966.8C2193.2,971.4 2200.3,975.5 2207.5,978.2C2216.5,981.6 2225.4,984.7 2234.4,986.8C2243.2,988.8 2252,990.7 2260.8,992C2276.6,994.2 2292.4,996.4 2308.2,997.7C2320.4,998.6 2332.5,999.7 2344.7,1000.1C2361,1000.5 2377.2,1000.9 2393.5,1001L2442.3,1001" fill="none" stroke="#00B36E" stroke-width="2.8" stroke-linejoin="round"/>
<path d="M1466.3,488.3C1467.7,438.5 1469.2,390.6 1470.6,356.3C1472.3,314.9 1474,275.1 1475.8,250.9C1478.4,213.9 1481,181.7 1483.7,158.8C1486.3,135.6 1489,111.4 1491.7,98C1494.8,82.5 1497.9,65.5 1500.9,61C1504.5,55.9 1508,50.2 1511.5,51.5C1514.5,52.6 1517.6,56.4 1520.7,61C1523.3,64.9 1525.9,72.1 1528.6,79C1532.1,88.4 1535.7,101.1 1539.2,111.3C1542.7,121.5 1546.2,132.1 1549.7,140.3C1553.3,148.5 1556.8,156.4 1560.3,161.6C1563.8,166.9 1567.3,170.6 1570.8,174.9C1574.4,179.3 1577.9,182.3 1581.5,187.8C1584.1,191.7 1586.7,202 1589.3,211.5C1591.9,221.1 1594.5,234.8 1597.2,250.9C1598.9,261.6 1600.7,277.7 1602.5,290.8C1604.2,304.1 1606,319.6 1607.8,330.2C1610.5,345.8 1613.1,356.4 1615.7,369.6C1618.4,382.8 1621,400.2 1623.6,409.5C1627.1,421.8 1630.7,431.2 1634.2,436C1638.6,442.1 1643,442.9 1647.3,449C1650.9,453.8 1654.4,460 1657.9,467.4C1661.4,474.7 1664.9,485.2 1668.3,494C1671.9,502.9 1675.5,511.6 1679.1,520.6C1682.3,528.6 1685.5,535.9 1688.7,545.2C1693.2,558.2 1697.6,575.3 1702.1,594.2C1705.7,609.6 1709.3,630 1712.9,648C1715.6,661.4 1718.3,674.8 1721,688.3C1723.7,701.7 1726.4,717 1729,728.7C1732.6,744.3 1736.2,759.5 1739.8,769C1743.4,778.7 1747,785.9 1750.6,793.2C1755.8,803.6 1761,812.8 1766.1,822.9C1771.5,833.4 1776.9,844.3 1782.3,855.2C1787.7,865.9 1793.1,877.5 1798.4,887.5C1804.7,899.2 1811,911.4 1817.3,919.8C1824.5,929.5 1831.6,937.6 1838.8,944C1846.9,951.2 1855,958.8 1863,962.9C1872,967.5 1880.9,972.2 1889.9,973.6C1898.9,974.9 1907.8,976 1916.8,976.3C1925.8,976.6 1934.8,974.4 1943.8,975C1949.1,975.3 1954.5,979.3 1959.9,981.7C1967.1,985 1974.2,990.3 1981.4,992.5C1990.4,995.1 1999.3,997.2 2008.3,997.8C2022.8,998.7 2037.4,999.7 2051.9,1000.1C2068.2,1000.4 2084.4,1000.9 2100.7,1001L2442.3,1001L2442.3,1001L1466.3,1001Z" fill="#00B0F6" fill-opacity="0.3" stroke="none"/>
<path d="M1466.3,488.3C1467.7,438.5 1469.2,390.6 1470.6,356.3C1472.3,314.9 1474,275.1 1475.8,250.9C1478.4,213.9 1481,181.7 1483.7,158.8C1486.3,135.6 1489,111.4 1491.7,98C1494.8,82.5 1497.9,65.5 1500.9,61C1504.5,55.9 1508,50.2 1511.5,51.5C1514.5,52.6 1517.6,56.4 1520.7,61C1523.3,64.9 1525.9,72.1 1528.6,79C1532.1,88.4 1535.7,101.1 1539.2,111.3C1542.7,121.5 1546.2,132.1 1549.7,140.3C1553.3,148.5 1556.8,156.4 1560.3,161.6C1563.8,166.9 1567.3,170.6 1570.8,174.9C1574.4,179.3 1577.9,182.3 1581.5,187.8C1584.1,191.7 1586.7,202 1589.3,211.5C1591.9,221.1 1594.5,234.8 1597.2,250.9C1598.9,261.6 1600.7,277.7 1602.5,290.8C1604.2,304.1 1606,319.6 1607.8,330.2C1610.5,345.8 1613.1,356.4 1615.7,369.6C1618.4,382.8 1621,400.2 1623.6,409.5C1627.1,421.8 1630.7,431.2 1634.2,436C1638.6,442.1 1643,442.9 1647.3,449C1650.9,453.8 1654.4,460 1657.9,467.4C1661.4,474.7 1664.9,485.2 1668.3,494C1671.9,502.9 1675.5,511.6 1679.1,520.6C1682.3,528.6 1685.5,535.9 1688.7,545.2C1693.2,558.2 1697.6,575.3 1702.1,594.2C1705.7,609.6 1709.3,630 1712.9,648C1715.6,661.4 1718.3,674.8 1721,688.3C1723.7,701.7 1726.4,717 1729,728.7C1732.6,744.3 1736.2,759.5 1739.8,769C1743.4,778.7 1747,785.9 1750.6,793.2C1755.8,803.6 1761,812.8 1766.1,822.9C1771.5,833.4 1776.9,844.3 1782.3,855.2C1787.7,865.9 1793.1,877.5 1798.4,887.5C1804.7,899.2 1811,911.4 1817.3,919.8C1824.5,929.5 1831.6,937.6 1838.8,944C1846.9,951.2 1855,958.8 1863,962.9C1872,967.5 1880.9,972.2 1889.9,973.6C1898.9,974.9 1907.8,976 1916.8,976.3C1925.8,976.6 1934.8,974.4 1943.8,975C1949.1,975.3 1954.5,979.3 1959.9,981.7C1967.1,985 1974.2,990.3 1981.4,992.5C1990.4,995.1 1999.3,997.2 2008.3,997.8C2022.8,998.7 2037.4,999.7 2051.9,1000.1C2068.2,1000.4 2084.4,1000.9 2100.7,1001L2442.3,1001" fill="none" stroke="#00A8F0" stroke-width="2.8" stroke-linejoin="round"/>
<path d="M1466.3,715.2C1469.6,696.7 1472.8,666.3 1476.1,634.5C1479.4,601.7 1482.8,540.2 1486.1,513.5C1491.5,470.2 1497,442.3 1502.4,415.5C1507.9,388.6 1513.3,363.6 1518.8,340.4C1524.2,317.4 1529.7,294.4 1535.1,275.1C1540.5,255.8 1546,237.6 1551.4,222.9C1556.9,208.1 1562.3,192.9 1567.8,183.7C1573.2,174.4 1578.7,167.5 1584.1,160.8C1590.6,152.7 1597.2,145 1603.7,138C1608,133.4 1612.4,128.8 1616.7,124.9C1623.2,119.1 1629.8,116.6 1636.3,110.2C1642.9,103.8 1649.4,93.4 1655.9,85.7C1660.1,80.7 1664.3,76.1 1668.4,71.4C1672.8,66.6 1677.2,59.9 1681.6,57.2C1686.9,53.9 1692.2,51.1 1697.5,51.5C1702.8,51.9 1708.1,53.7 1713.3,55.8C1718.6,57.8 1723.9,60.9 1729.1,63.8C1734.4,66.8 1739.7,69.9 1745,73.3C1750,76.5 1755,80.1 1760,83.8C1763.7,86.5 1767.4,89.2 1771.1,92.8C1777.3,98.9 1783.5,108.9 1789.6,119.2C1794,126.5 1798.4,136.1 1802.8,145.6C1808.1,157 1813.4,171.1 1818.6,182.5C1823,192 1827.4,202.1 1831.8,208.9C1837.1,217.2 1842.4,223.1 1847.7,230C1853.8,238 1860,244.6 1866.1,253.7C1871.4,261.6 1876.7,272.4 1882,282.8C1887.2,293.1 1892.5,304.1 1897.8,317.1C1903.1,330.1 1908.3,347.6 1913.6,362C1918.9,376.5 1924.2,390 1929.5,404.1C1934.8,418.2 1940.1,433.2 1945.3,446.4C1950.6,459.6 1955.9,472.2 1961.1,483.4C1966.4,494.8 1971.7,505.1 1977,515C1980.3,521.1 1983.5,526 1986.8,532.3C1992.2,542.9 1997.7,555.5 2003.1,567.3C2008.4,578.8 2013.8,588.7 2019.1,602.2C2023.6,613.6 2028.1,629.1 2032.6,642.6C2037.1,656 2041.6,669.9 2046,682.9C2050.5,695.9 2055,708.6 2059.5,720.7C2064,732.8 2068.4,744.1 2072.9,755.7C2077.4,767.4 2081.9,779.4 2086.4,790.6C2090.8,801.7 2095.3,813.6 2099.7,822.9C2105.2,834.1 2110.6,843.7 2116,852.5C2121.4,861.2 2126.8,869.6 2132.1,876.8C2139.3,886.4 2146.5,894.3 2153.7,903.2C2160.9,912 2168,920.5 2175.2,929.8C2182.4,939.1 2189.5,951.3 2196.7,959.2C2203.9,967.1 2211.1,974.7 2218.2,978.2C2227.8,982.9 2237.5,986.9 2247.1,988.8C2257,990.8 2266.8,992.7 2276.7,993.9C2287.2,995.1 2297.7,996 2308.2,997.1C2318.8,998.2 2329.3,999.9 2339.9,1000.3C2351.3,1000.8 2362.6,1001 2374,1001L2442.3,1001L2442.3,1001L1466.3,1001Z" fill="#E76BF3" fill-opacity="0.3" stroke="none"/>
<path d="M1466.3,715.2C1469.6,696.7 1472.8,666.3 1476.1,634.5C1479.4,601.7 1482.8,540.2 1486.1,513.5C1491.5,470.2 1497,442.3 1502.4,415.5C1507.9,388.6 1513.3,363.6 1518.8,340.4C1524.2,317.4 1529.7,294.4 1535.1,275.1C1540.5,255.8 1546,237.6 1551.4,222.9C1556.9,208.1 1562.3,192.9 1567.8,183.7C1573.2,174.4 1578.7,167.5 1584.1,160.8C1590.6,152.7 1597.2,145 1603.7,138C1608,133.4 1612.4,128.8 1616.7,124.9C1623.2,119.1 1629.8,116.6 1636.3,110.2C1642.9,103.8 1649.4,93.4 1655.9,85.7C1660.1,80.7 1664.3,76.1 1668.4,71.4C1672.8,66.6 1677.2,59.9 1681.6,57.2C1686.9,53.9 1692.2,51.1 1697.5,51.5C1702.8,51.9 1708.1,53.7 1713.3,55.8C1718.6,57.8 1723.9,60.9 1729.1,63.8C1734.4,66.8 1739.7,69.9 1745,73.3C1750,76.5 1755,80.1 1760,83.8C1763.7,86.5 1767.4,89.2 1771.1,92.8C1777.3,98.9 1783.5,108.9 1789.6,119.2C1794,126.5 1798.4,136.1 1802.8,145.6C1808.1,157 1813.4,171.1 1818.6,182.5C1823,192 1827.4,202.1 1831.8,208.9C1837.1,217.2 1842.4,223.1 1847.7,230C1853.8,238 1860,244.6 1866.1,253.7C1871.4,261.6 1876.7,272.4 1882,282.8C1887.2,293.1 1892.5,304.1 1897.8,317.1C1903.1,330.1 1908.3,347.6 1913.6,362C1918.9,376.5 1924.2,390 1929.5,404.1C1934.8,418.2 1940.1,433.2 1945.3,446.4C1950.6,459.6 1955.9,472.2 1961.1,483.4C1966.4,494.8 1971.7,505.1 1977,515C1980.3,521.1 1983.5,526 1986.8,532.3C1992.2,542.9 1997.7,555.5 2003.1,567.3C2008.4,578.8 2013.8,588.7 2019.1,602.2C2023.6,613.6 2028.1,629.1 2032.6,642.6C2037.1,656 2041.6,669.9 2046,682.9C2050.5,695.9 2055,708.6 2059.5,720.7C2064,732.8 2068.4,744.1 2072.9,755.7C2077.4,767.4 2081.9,779.4 2086.4,790.6C2090.8,801.7 2095.3,813.6 2099.7,822.9C2105.2,834.1 2110.6,843.7 2116,852.5C2121.4,861.2 2126.8,869.6 2132.1,876.8C2139.3,886.4 2146.5,894.3 2153.7,903.2C2160.9,912 2168,920.5 2175.2,929.8C2182.4,939.1 2189.5,951.3 2196.7,959.2C2203.9,967.1 2211.1,974.7 2218.2,978.2C2227.8,982.9 2237.5,986.9 2247.1,988.8C2257,990.8 2266.8,992.7 2276.7,993.9C2287.2,995.1 2297.7,996 2308.2,997.1C2318.8,998.2 2329.3,999.9 2339.9,1000.3C2351.3,1000.8 2362.6,1001 2374,1001L2442.3,1001" fill="none" stroke="#F046F5" stroke-width="2.8" stroke-linejoin="round"/>
</g>
<rect x="2176" y="77" width="229" height="118" fill="#fff"/>
<text x="2208.4" y="169" class="pl">SS(I)</text>
<rect x="1417.5" y="4.5" width="1073.5" height="1043.0" fill="none" stroke="#000" stroke-width="2.6"/>
<path d="M1407.5,1001H1417.5M1466.3,1047.5V1055.5M1407.5,763.6H1417.5M1710.3,1047.5V1055.5M1407.5,526.2H1417.5M1954.3,1047.5V1055.5M1407.5,288.9H1417.5M2198.3,1047.5V1055.5M1407.5,51.5H1417.5M2442.3,1047.5V1055.5" stroke="#000" stroke-width="2.6" fill="none"/>
<clipPath id="cBL"><rect x="323" y="1073.7" width="1065.1" height="1039.8"/></clipPath>
<g clip-path="url(#cBL)">
<path d="M492.4,1073.7V2113.6M323,1948.1H1388.1M734.5,1073.7V2113.6M323,1711.8H1388.1M976.6,1073.7V2113.6M323,1475.5H1388.1M1218.7,1073.7V2113.6M323,1239.2H1388.1" stroke="#EDEDED" stroke-width="2.2" fill="none"/>
<path d="M371.4,1073.7V2113.6M323,2066.3H1388.1M613.5,1073.7V2113.6M323,1830H1388.1M855.5,1073.7V2113.6M323,1593.7H1388.1M1097.6,1073.7V2113.6M323,1357.3H1388.1M1339.7,1073.7V2113.6M323,1121H1388.1" stroke="#E3E3E3" stroke-width="2.7" fill="none"/>
<path d="M371.4,1546.4C374,1454 376.6,1361.6 379.1,1310.1C381.7,1258.5 384.3,1209.1 386.9,1187.2C389.5,1165.3 392.1,1142.6 394.6,1135.2C397.1,1128.2 399.5,1118.1 401.9,1121C405.4,1125.3 408.9,1137.9 412.5,1149.5C416,1161.2 419.5,1176 423,1189.2C426.5,1202.4 430,1215.7 433.6,1228.8C436.2,1238.6 438.9,1247.8 441.5,1257.8C444.2,1267.8 446.8,1276.9 449.4,1289.4C452.1,1301.7 454.7,1319.5 457.3,1334.3C460,1349.4 462.6,1363.5 465.3,1379.1C467.9,1394.2 470.6,1412.3 473.2,1426.6C475.8,1441.2 478.5,1455 481.1,1466.2C484.6,1481 488.1,1494.2 491.6,1505.7C495.1,1517.5 498.7,1525.8 502.2,1537.4C505.7,1548.9 509.3,1562.1 512.8,1574.7C518,1593.7 523.3,1610.6 528.6,1632.8C533,1651.4 537.4,1677.5 541.8,1698.7C546.2,1719.7 550.6,1744 555,1759.4C559.4,1774.7 563.8,1786.6 568.2,1796.4C573.5,1808.3 578.7,1816.4 584,1828C589.3,1839.5 594.6,1852.7 599.8,1865C605.1,1877.3 610.4,1891.4 615.7,1901.9C621.8,1914.1 628,1924.4 634.1,1933.6C641.1,1944.1 648.2,1953.9 655.2,1962.6C661.4,1970.2 667.5,1978.8 673.7,1983.7C679.9,1988.6 686,1989.7 692.2,1994.2C697.5,1998 702.7,2002.9 708,2007.4C715,2013.4 722.1,2021.5 729.1,2025.9C736.1,2030.4 743.2,2033 750.2,2036.5C759,2040.9 767.8,2047.6 776.6,2049.7C784.5,2051.5 792.4,2050.9 800.4,2052.3C809.1,2053.9 817.9,2056.3 826.7,2057.6C835.5,2058.9 844.3,2060.1 853.1,2060.3C857.6,2060.3 862,2058.8 866.4,2058.9C875.7,2059.2 885,2064.9 894.3,2065.4C904,2065.9 913.6,2066.3 923.3,2066.3L1339.7,2066.3L1339.7,2066.3L371.4,2066.3Z" fill="#F8766D" fill-opacity="0.3" stroke="none"/>
<path d="M371.4,1546.4C374,1454 376.6,1361.6 379.1,1310.1C381.7,1258.5 384.3,1209.1 386.9,1187.2C389.5,1165.3 392.1,1142.6 394.6,1135.2C397.1,1128.2 399.5,1118.1 401.9,1121C405.4,1125.3 408.9,1137.9 412.5,1149.5C416,1161.2 419.5,1176 423,1189.2C426.5,1202.4 430,1215.7 433.6,1228.8C436.2,1238.6 438.9,1247.8 441.5,1257.8C444.2,1267.8 446.8,1276.9 449.4,1289.4C452.1,1301.7 454.7,1319.5 457.3,1334.3C460,1349.4 462.6,1363.5 465.3,1379.1C467.9,1394.2 470.6,1412.3 473.2,1426.6C475.8,1441.2 478.5,1455 481.1,1466.2C484.6,1481 488.1,1494.2 491.6,1505.7C495.1,1517.5 498.7,1525.8 502.2,1537.4C505.7,1548.9 509.3,1562.1 512.8,1574.7C518,1593.7 523.3,1610.6 528.6,1632.8C533,1651.4 537.4,1677.5 541.8,1698.7C546.2,1719.7 550.6,1744 555,1759.4C559.4,1774.7 563.8,1786.6 568.2,1796.4C573.5,1808.3 578.7,1816.4 584,1828C589.3,1839.5 594.6,1852.7 599.8,1865C605.1,1877.3 610.4,1891.4 615.7,1901.9C621.8,1914.1 628,1924.4 634.1,1933.6C641.1,1944.1 648.2,1953.9 655.2,1962.6C661.4,1970.2 667.5,1978.8 673.7,1983.7C679.9,1988.6 686,1989.7 692.2,1994.2C697.5,1998 702.7,2002.9 708,2007.4C715,2013.4 722.1,2021.5 729.1,2025.9C736.1,2030.4 743.2,2033 750.2,2036.5C759,2040.9 767.8,2047.6 776.6,2049.7C784.5,2051.5 792.4,2050.9 800.4,2052.3C809.1,2053.9 817.9,2056.3 826.7,2057.6C835.5,2058.9 844.3,2060.1 853.1,2060.3C857.6,2060.3 862,2058.8 866.4,2058.9C875.7,2059.2 885,2064.9 894.3,2065.4C904,2065.9 913.6,2066.3 923.3,2066.3L1339.7,2066.3" fill="none" stroke="#F5574B" stroke-width="2.8" stroke-linejoin="round"/>
<path d="M371.4,1546.4C372.8,1480.4 374.2,1416 375.6,1373.9C377.3,1321 379,1272.9 380.8,1242C382.6,1210.5 384.3,1178.7 386.1,1162.8C387.9,1147.1 389.6,1130.9 391.3,1125.7C392.2,1123.1 393.1,1120.5 394,1121C395.7,1122 397.5,1127.9 399.3,1136.4C401.1,1144.9 402.8,1162.8 404.6,1176C406.4,1189.2 408.2,1203 409.9,1215.5C411.6,1227.6 413.4,1243.8 415.1,1249.8C417.7,1259.2 420.4,1264.6 423,1268.3C426.5,1273.1 430,1273.8 433.6,1278.9C436.2,1282.7 438.9,1289.6 441.5,1299.9C443.3,1306.9 445.1,1324.4 446.8,1334.3C449.4,1348.8 452.1,1360.8 454.7,1373.9C457.3,1387.1 460,1400.1 462.6,1413.4C465.2,1426.5 467.8,1440.9 470.5,1453C474,1469.4 477.6,1484.5 481.1,1497.9C484.6,1511.1 488.1,1517.6 491.6,1532.2C494.2,1543.4 496.9,1560.2 499.6,1574.7C503.1,1593.7 506.6,1614.3 510.1,1632.8C513.6,1651.6 517.2,1665 520.7,1685.5C523.3,1700.6 525.9,1720.8 528.6,1738.3C531.2,1756 533.8,1778.2 536.5,1791.1C540,1808.4 543.6,1820.8 547.1,1830.7C552.4,1845.5 557.7,1857.8 562.9,1870.2C569.1,1884.8 575.3,1899.4 581.4,1912.5C588.5,1927.5 595.5,1942.2 602.5,1954.8C609.6,1967.3 616.6,1979.1 623.6,1989C630.7,1998.9 637.7,2005.7 644.8,2015.3C650,2022.6 655.3,2033.2 660.5,2039.1C665.8,2044.9 671.1,2050.6 676.3,2052.3C683.4,2054.6 690.5,2055.9 697.5,2057.6C708.2,2060.2 719,2064.6 729.7,2065.4C739.4,2066 749,2066.3 758.7,2066.3L1339.7,2066.3L1339.7,2066.3L371.4,2066.3Z" fill="#A3A500" fill-opacity="0.3" stroke="none"/>
<path d="M371.4,1546.4C372.8,1480.4 374.2,1416 375.6,1373.9C377.3,1321 379,1272.9 380.8,1242C382.6,1210.5 384.3,1178.7 386.1,1162.8C387.9,1147.1 389.6,1130.9 391.3,1125.7C392.2,1123.1 393.1,1120.5 394,1121C395.7,1122 397.5,1127.9 399.3,1136.4C401.1,1144.9 402.8,1162.8 404.6,1176C406.4,1189.2 408.2,1203 409.9,1215.5C411.6,1227.6 413.4,1243.8 415.1,1249.8C417.7,1259.2 420.4,1264.6 423,1268.3C426.5,1273.1 430,1273.8 433.6,1278.9C436.2,1282.7 438.9,1289.6 441.5,1299.9C443.3,1306.9 445.1,1324.4 446.8,1334.3C449.4,1348.8 452.1,1360.8 454.7,1373.9C457.3,1387.1 460,1400.1 462.6,1413.4C465.2,1426.5 467.8,1440.9 470.5,1453C474,1469.4 477.6,1484.5 481.1,1497.9C484.6,1511.1 488.1,1517.6 491.6,1532.2C494.2,1543.4 496.9,1560.2 499.6,1574.7C503.1,1593.7 506.6,1614.3 510.1,1632.8C513.6,1651.6 517.2,1665 520.7,1685.5C523.3,1700.6 525.9,1720.8 528.6,1738.3C531.2,1756 533.8,1778.2 536.5,1791.1C540,1808.4 543.6,1820.8 547.1,1830.7C552.4,1845.5 557.7,1857.8 562.9,1870.2C569.1,1884.8 575.3,1899.4 581.4,1912.5C588.5,1927.5 595.5,1942.2 602.5,1954.8C609.6,1967.3 616.6,1979.1 623.6,1989C630.7,1998.9 637.7,2005.7 644.8,2015.3C650,2022.6 655.3,2033.2 660.5,2039.1C665.8,2044.9 671.1,2050.6 676.3,2052.3C683.4,2054.6 690.5,2055.9 697.5,2057.6C708.2,2060.2 719,2064.6 729.7,2065.4C739.4,2066 749,2066.3 758.7,2066.3L1339.7,2066.3" fill="none" stroke="#A0A000" stroke-width="2.8" stroke-linejoin="round"/>
<path d="M371.4,1585.1C374,1485.8 376.6,1387.7 379.1,1329C381.7,1270.2 384.3,1211.8 386.9,1187.2C389.5,1162.6 392.1,1136.5 394.6,1130.5C396.6,1125.7 398.6,1119.3 400.6,1121C404.6,1124.4 408.5,1133.8 412.5,1144.3C416,1153.8 419.5,1168.6 423,1183.9C425.7,1195.4 428.3,1210.3 431,1223.5C433.6,1236.7 436.2,1254.9 438.9,1263C441.5,1271.1 444.2,1277.3 446.8,1278.9C451.2,1281.5 455.6,1281.5 460,1284.2C463.5,1286.3 467,1288.8 470.5,1292.1C474,1295.5 477.6,1302.8 481.1,1310.5C484.6,1318.1 488.1,1330.4 491.6,1342.2C494.2,1351.3 496.9,1362 499.6,1373.9C502.2,1385.6 504.9,1400.1 507.5,1413.4C510.2,1426.5 512.8,1439.9 515.4,1453C518,1466.3 520.7,1481.2 523.3,1492.6C526.8,1507.8 530.4,1518.3 533.9,1532.2C537.4,1546.1 540.9,1560.8 544.4,1575.7C548.8,1594.2 553.2,1614.5 557.6,1632.8C562,1651.1 566.4,1668 570.8,1685.5C575.2,1703.2 579.6,1720.6 584,1738.3C588.4,1755.8 592.8,1774.4 597.2,1791.1C601.6,1807.9 606,1826.3 610.4,1838.6C615.6,1853.3 620.9,1863.5 626.2,1875.5C632.4,1889.8 638.6,1903.6 644.8,1917.7C650.9,1931.7 657,1945.9 663.1,1960C669.3,1974.1 675.5,1990 681.6,2002.2C687.8,2014.4 694,2026.8 700.1,2033.8C707.2,2041.8 714.2,2049.2 721.2,2052.3C730,2056.2 738.8,2060.2 747.6,2061.6C757.8,2063.1 767.9,2064.9 778.1,2065.4C787.8,2065.8 797.5,2066.2 807.1,2066.3L1339.7,2066.3L1339.7,2066.3L371.4,2066.3Z" fill="#00BF7D" fill-opacity="0.3" stroke="none"/>
<path d="M371.4,1585.1C374,1485.8 376.6,1387.7 379.1,1329C381.7,1270.2 384.3,1211.8 386.9,1187.2C389.5,1162.6 392.1,1136.5 394.6,1130.5C396.6,1125.7 398.6,1119.3 400.6,1121C404.6,1124.4 408.5,1133.8 412.5,1144.3C416,1153.8 419.5,1168.6 423,1183.9C425.7,1195.4 428.3,1210.3 431,1223.5C433.6,1236.7 436.2,1254.9 438.9,1263C441.5,1271.1 444.2,1277.3 446.8,1278.9C451.2,1281.5 455.6,1281.5 460,1284.2C463.5,1286.3 467,1288.8 470.5,1292.1C474,1295.5 477.6,1302.8 481.1,1310.5C484.6,1318.1 488.1,1330.4 491.6,1342.2C494.2,1351.3 496.9,1362 499.6,1373.9C502.2,1385.6 504.9,1400.1 507.5,1413.4C510.2,1426.5 512.8,1439.9 515.4,1453C518,1466.3 520.7,1481.2 523.3,1492.6C526.8,1507.8 530.4,1518.3 533.9,1532.2C537.4,1546.1 540.9,1560.8 544.4,1575.7C548.8,1594.2 553.2,1614.5 557.6,1632.8C562,1651.1 566.4,1668 570.8,1685.5C575.2,1703.2 579.6,1720.6 584,1738.3C588.4,1755.8 592.8,1774.4 597.2,1791.1C601.6,1807.9 606,1826.3 610.4,1838.6C615.6,1853.3 620.9,1863.5 626.2,1875.5C632.4,1889.8 638.6,1903.6 644.8,1917.7C650.9,1931.7 657,1945.9 663.1,1960C669.3,1974.1 675.5,1990 681.6,2002.2C687.8,2014.4 694,2026.8 700.1,2033.8C707.2,2041.8 714.2,2049.2 721.2,2052.3C730,2056.2 738.8,2060.2 747.6,2061.6C757.8,2063.1 767.9,2064.9 778.1,2065.4C787.8,2065.8 797.5,2066.2 807.1,2066.3L1339.7,2066.3" fill="none" stroke="#00B36E" stroke-width="2.8" stroke-linejoin="round"/>
<path d="M371.4,2066.3L613.5,2066.3C623,2065.8 632.5,2064.3 642,2062.8C650.8,2061.5 659.6,2058.5 668.4,2057.6C674.5,2057 680.7,2056.7 686.9,2056.3C693.9,2055.8 700.9,2055.4 708,2055C713.2,2054.6 718.5,2053.6 723.8,2052.3C727.3,2051.4 730.9,2047.6 734.4,2044.4C738.8,2040.4 743.2,2034.5 747.6,2028.6C752,2022.6 756.4,2015.1 760.9,2007.4C765.2,1999.8 769.6,1991 774,1981.1C778.4,1971.3 782.8,1959.1 787.2,1944.1C790.7,1932.1 794.2,1910.6 797.6,1898C801.5,1884.3 805.3,1872.1 809.1,1863.1C812.3,1855.4 815.5,1850.2 818.8,1843.2C822.3,1835.5 825.9,1827.4 829.4,1818.6C833,1809.8 836.5,1799.9 840.1,1785.5C843.6,1771.3 847.1,1740.3 850.6,1711.8C853.2,1690.6 855.8,1663.4 858.5,1636.2C859.7,1623.1 861,1603.9 862.2,1593.3C865.1,1568.7 868,1553.1 870.9,1534.1C874,1514.1 877.1,1494.7 880.1,1475.1C883.2,1455.3 886.3,1435.3 889.4,1415.9C892.7,1395.8 895.9,1380 899.1,1357.3C901,1344 902.9,1325.5 904.8,1310.1C906.6,1295.9 908.3,1282.3 910.1,1268.3C911.3,1258.7 912.5,1247.8 913.6,1239.3C915.4,1226.5 917.2,1216.6 919,1205C920.6,1194.5 922.2,1182.7 923.8,1173.3C925.9,1161.2 927.9,1148 930,1141.8C933.8,1130.5 937.5,1120 941.2,1121C944.4,1121.9 947.6,1131.2 950.8,1141.8C953.1,1149.2 955.3,1164.1 957.5,1173.3C960.4,1185 963.2,1194.9 966,1205C968.1,1212.5 970.2,1217.3 972.3,1226.1C974.6,1235.8 976.9,1253.1 979.2,1268.3C981,1280.1 982.8,1291.9 984.5,1310.1C985.6,1321 986.7,1343.9 987.7,1357.3C991.2,1401.7 994.8,1439.9 998.3,1475.1C1002.5,1517.4 1006.7,1553.2 1011,1593.3C1012.9,1611.9 1014.9,1632.1 1016.9,1650C1019.3,1671.7 1021.6,1691.6 1024,1711.8C1028.8,1751.9 1033.5,1795.2 1038.3,1830C1041.7,1854.8 1045,1875.5 1048.4,1896.6C1051.1,1913.1 1053.7,1932.3 1056.4,1944.1C1059.9,1959.8 1063.4,1972.8 1066.9,1981.1C1072.2,1993.6 1077.5,2004.3 1082.7,2012.7C1088.9,2022.5 1095,2033.8 1101.2,2039.1C1109.1,2045.9 1117.1,2051.5 1125,2054.9C1133.8,2058.6 1142.5,2063.1 1151.3,2064.2C1159.2,2065.2 1167.1,2066.2 1175.1,2066.3L1339.7,2066.3L1339.7,2066.3L371.4,2066.3Z" fill="#00B0F6" fill-opacity="0.3" stroke="none"/>
<path d="M371.4,2066.3L613.5,2066.3C623,2065.8 632.5,2064.3 642,2062.8C650.8,2061.5 659.6,2058.5 668.4,2057.6C674.5,2057 680.7,2056.7 686.9,2056.3C693.9,2055.8 700.9,2055.4 708,2055C713.2,2054.6 718.5,2053.6 723.8,2052.3C727.3,2051.4 730.9,2047.6 734.4,2044.4C738.8,2040.4 743.2,2034.5 747.6,2028.6C752,2022.6 756.4,2015.1 760.9,2007.4C765.2,1999.8 769.6,1991 774,1981.1C778.4,1971.3 782.8,1959.1 787.2,1944.1C790.7,1932.1 794.2,1910.6 797.6,1898C801.5,1884.3 805.3,1872.1 809.1,1863.1C812.3,1855.4 815.5,1850.2 818.8,1843.2C822.3,1835.5 825.9,1827.4 829.4,1818.6C833,1809.8 836.5,1799.9 840.1,1785.5C843.6,1771.3 847.1,1740.3 850.6,1711.8C853.2,1690.6 855.8,1663.4 858.5,1636.2C859.7,1623.1 861,1603.9 862.2,1593.3C865.1,1568.7 868,1553.1 870.9,1534.1C874,1514.1 877.1,1494.7 880.1,1475.1C883.2,1455.3 886.3,1435.3 889.4,1415.9C892.7,1395.8 895.9,1380 899.1,1357.3C901,1344 902.9,1325.5 904.8,1310.1C906.6,1295.9 908.3,1282.3 910.1,1268.3C911.3,1258.7 912.5,1247.8 913.6,1239.3C915.4,1226.5 917.2,1216.6 919,1205C920.6,1194.5 922.2,1182.7 923.8,1173.3C925.9,1161.2 927.9,1148 930,1141.8C933.8,1130.5 937.5,1120 941.2,1121C944.4,1121.9 947.6,1131.2 950.8,1141.8C953.1,1149.2 955.3,1164.1 957.5,1173.3C960.4,1185 963.2,1194.9 966,1205C968.1,1212.5 970.2,1217.3 972.3,1226.1C974.6,1235.8 976.9,1253.1 979.2,1268.3C981,1280.1 982.8,1291.9 984.5,1310.1C985.6,1321 986.7,1343.9 987.7,1357.3C991.2,1401.7 994.8,1439.9 998.3,1475.1C1002.5,1517.4 1006.7,1553.2 1011,1593.3C1012.9,1611.9 1014.9,1632.1 1016.9,1650C1019.3,1671.7 1021.6,1691.6 1024,1711.8C1028.8,1751.9 1033.5,1795.2 1038.3,1830C1041.7,1854.8 1045,1875.5 1048.4,1896.6C1051.1,1913.1 1053.7,1932.3 1056.4,1944.1C1059.9,1959.8 1063.4,1972.8 1066.9,1981.1C1072.2,1993.6 1077.5,2004.3 1082.7,2012.7C1088.9,2022.5 1095,2033.8 1101.2,2039.1C1109.1,2045.9 1117.1,2051.5 1125,2054.9C1133.8,2058.6 1142.5,2063.1 1151.3,2064.2C1159.2,2065.2 1167.1,2066.2 1175.1,2066.3L1339.7,2066.3" fill="none" stroke="#00A8F0" stroke-width="2.8" stroke-linejoin="round"/>
<path d="M371.4,1558.7C374.5,1465.9 377.7,1372.4 380.8,1321.1C383.4,1277.8 386.1,1244.6 388.7,1215.5C391.4,1186.5 394,1146.7 396.7,1136.4C398.9,1127.9 401.1,1120.2 403.3,1121C406.3,1122.1 409.4,1123.8 412.5,1125.7C415.1,1127.4 417.7,1129.1 420.4,1131.1C423,1133.1 425.7,1135.6 428.3,1139C431,1142.2 433.6,1148.8 436.2,1154.9C438.9,1161.3 441.5,1169.6 444.2,1178.7C446.8,1187.5 449.4,1199.1 452.1,1210.3C454.7,1221.7 457.4,1233.4 460,1247.2C461.8,1256.5 463.5,1268.1 465.3,1278.9C467,1289.2 468.7,1301.5 470.5,1310.5C473.1,1324.8 475.8,1334.6 478.5,1347.5C481.1,1360.2 483.8,1373.7 486.4,1387C489,1400.1 491.7,1414.4 494.3,1426.6C496.9,1439 499.6,1450.7 502.2,1460.9C505.7,1474.5 509.3,1488.6 512.8,1497.9C516.3,1507.2 519.8,1513.7 523.3,1521.6C526.8,1529.5 530.4,1536.1 533.9,1545.4C537.4,1554.8 540.9,1568.2 544.4,1579.7C547.5,1589.7 550.6,1599 553.7,1610C556.8,1620.9 559.9,1635.6 562.9,1646C569.1,1667 575.3,1677.4 581.4,1698.7C585.8,1713.8 590.2,1733.9 594.6,1751.5C599,1769 603.3,1788.4 607.7,1804.3C613,1823.7 618.3,1841.8 623.6,1857C629.8,1874.5 635.9,1889.2 642,1904.5C648.2,1919.8 654.4,1934.7 660.5,1949.4C665.8,1961.9 671.1,1976.3 676.3,1986.3C682.5,1998.1 688.6,2008.8 694.8,2015.3C701.8,2022.8 708.9,2029.4 715.9,2033.8C723.9,2038.8 731.8,2042.9 739.7,2047C748.5,2051.6 757.3,2058 766.1,2060.3C776.5,2063 787,2064.9 797.5,2065.4C807.1,2065.8 816.8,2066.2 826.5,2066.3L1339.7,2066.3L1339.7,2066.3L371.4,2066.3Z" fill="#E76BF3" fill-opacity="0.3" stroke="none"/>
<path d="M371.4,1558.7C374.5,1465.9 377.7,1372.4 380.8,1321.1C383.4,1277.8 386.1,1244.6 388.7,1215.5C391.4,1186.5 394,1146.7 396.7,1136.4C398.9,1127.9 401.1,1120.2 403.3,1121C406.3,1122.1 409.4,1123.8 412.5,1125.7C415.1,1127.4 417.7,1129.1 420.4,1131.1C423,1133.1 425.7,1135.6 428.3,1139C431,1142.2 433.6,1148.8 436.2,1154.9C438.9,1161.3 441.5,1169.6 444.2,1178.7C446.8,1187.5 449.4,1199.1 452.1,1210.3C454.7,1221.7 457.4,1233.4 460,1247.2C461.8,1256.5 463.5,1268.1 465.3,1278.9C467,1289.2 468.7,1301.5 470.5,1310.5C473.1,1324.8 475.8,1334.6 478.5,1347.5C481.1,1360.2 483.8,1373.7 486.4,1387C489,1400.1 491.7,1414.4 494.3,1426.6C496.9,1439 499.6,1450.7 502.2,1460.9C505.7,1474.5 509.3,1488.6 512.8,1497.9C516.3,1507.2 519.8,1513.7 523.3,1521.6C526.8,1529.5 530.4,1536.1 533.9,1545.4C537.4,1554.8 540.9,1568.2 544.4,1579.7C547.5,1589.7 550.6,1599 553.7,1610C556.8,1620.9 559.9,1635.6 562.9,1646C569.1,1667 575.3,1677.4 581.4,1698.7C585.8,1713.8 590.2,1733.9 594.6,1751.5C599,1769 603.3,1788.4 607.7,1804.3C613,1823.7 618.3,1841.8 623.6,1857C629.8,1874.5 635.9,1889.2 642,1904.5C648.2,1919.8 654.4,1934.7 660.5,1949.4C665.8,1961.9 671.1,1976.3 676.3,1986.3C682.5,1998.1 688.6,2008.8 694.8,2015.3C701.8,2022.8 708.9,2029.4 715.9,2033.8C723.9,2038.8 731.8,2042.9 739.7,2047C748.5,2051.6 757.3,2058 766.1,2060.3C776.5,2063 787,2064.9 797.5,2065.4C807.1,2065.8 816.8,2066.2 826.5,2066.3L1339.7,2066.3" fill="none" stroke="#F046F5" stroke-width="2.8" stroke-linejoin="round"/>
</g>
<rect x="1097" y="1152" width="273" height="117" fill="#fff"/>
<text x="1127.2" y="1242.9" class="pl">NS(II)</text>
<rect x="323" y="1074" width="1066.5" height="1040" fill="none" stroke="#000" stroke-width="2.6"/>
<path d="M313,2066.3H323M371.4,2114V2122M313,1830H323M613.5,2114V2122M313,1593.7H323M855.5,2114V2122M313,1357.3H323M1097.6,2114V2122M313,1121H323M1339.7,2114V2122" stroke="#000" stroke-width="2.6" fill="none"/>
<clipPath id="cBR"><rect x="1416.7" y="1071.2" width="1069.6" height="1050.9"/></clipPath>
<g clip-path="url(#cBR)">
<path d="M1586.8,1071.2V2122.2M1416.7,1955H2486.3M1829.9,1071.2V2122.2M1416.7,1716.1H2486.3M2073.1,1071.2V2122.2M1416.7,1477.3H2486.3M2316.2,1071.2V2122.2M1416.7,1238.4H2486.3" stroke="#EDEDED" stroke-width="2.2" fill="none"/>
<path d="M1465.3,1071.2V2122.2M1416.7,2074.4H2486.3M1708.4,1071.2V2122.2M1416.7,1835.6H2486.3M1951.5,1071.2V2122.2M1416.7,1596.7H2486.3M2194.6,1071.2V2122.2M1416.7,1357.9H2486.3M2437.7,1071.2V2122.2M1416.7,1119H2486.3" stroke="#E3E3E3" stroke-width="2.7" fill="none"/>
<path d="M1465.3,1610.1C1466.2,1584.7 1467.1,1558.9 1467.9,1545.4C1469.7,1518.5 1471.4,1500.4 1473.2,1479.4C1475.8,1447.9 1478.4,1412.4 1481.1,1387C1483.7,1361.2 1486.4,1340.4 1489,1321.1C1491.7,1302 1494.3,1283.2 1496.9,1268.3C1499.6,1253.3 1502.2,1238.4 1504.9,1228.7C1507.5,1219.1 1510.1,1209.8 1512.8,1205C1516.3,1198.6 1519.8,1193.7 1523.4,1189.2C1528.6,1182.5 1533.9,1177.8 1539.2,1170.7C1544.5,1163.6 1549.7,1154.4 1555,1146.9C1560.2,1139.4 1565.5,1130.3 1570.8,1125.8C1576.5,1120.9 1582.3,1118.4 1588,1119C1594.3,1119.7 1600.6,1128.3 1606.9,1136.1C1612.4,1142.9 1617.8,1156.5 1623.3,1172C1627.7,1184.3 1632,1204.2 1636.3,1221C1640.7,1237.9 1645,1254.9 1649.4,1273.3C1653.7,1291.7 1658.1,1314.9 1662.4,1332.1C1666.8,1349.3 1671.2,1365.4 1675.5,1377.8C1679.9,1390.2 1684.2,1399.1 1688.6,1410.4C1695.1,1427.4 1701.7,1444.7 1708.2,1462.7C1714.8,1480.6 1721.3,1499.6 1727.8,1518.2C1734.3,1536.6 1740.8,1553.3 1747.3,1573.7C1752.8,1590.9 1758.3,1611.8 1763.7,1632.4C1770.2,1657 1776.8,1687 1783.3,1710.2C1789,1730.5 1794.7,1751 1800.4,1764.7C1805.7,1777.3 1811,1786.8 1816.2,1796.4C1822.4,1807.5 1828.6,1818.2 1834.7,1828C1841.7,1839.2 1848.8,1849.2 1855.8,1859.7C1862.8,1870.3 1869.9,1880.8 1876.9,1891.3C1884,1901.9 1891,1914.4 1898,1923C1905.1,1931.5 1912.1,1938 1919.1,1944.1C1926.2,1950.2 1933.2,1953.1 1940.2,1959.9C1944.4,1964 1948.6,1971.4 1952.8,1975.8C1961.6,1985.1 1970.4,1994 1979.2,1999.5C1988,2004.9 1996.7,2009.5 2005.5,2012.7C2014.3,2015.8 2023.1,2017.4 2031.9,2020.6C2040.7,2023.8 2049.5,2027.7 2058.3,2031.2C2067.1,2034.7 2075.9,2040.3 2084.7,2041.7C2093.5,2043.1 2102.3,2043.5 2111.1,2044.4C2119.9,2045.3 2128.7,2045.8 2137.5,2047C2146.3,2048.2 2155.1,2051.9 2163.9,2053.6C2172.7,2055.2 2181.4,2056.4 2190.2,2057.6C2203.4,2059.4 2216.6,2061.7 2229.8,2062.8C2243,2064 2256.2,2064.7 2269.4,2065.5C2278.2,2066 2286.9,2066 2295.7,2066.8C2304.2,2067.5 2312.6,2071.8 2321,2072.5C2334,2073.6 2346.9,2074.3 2359.9,2074.4L2437.7,2074.4L2437.7,2074.4L1465.3,2074.4Z" fill="#F8766D" fill-opacity="0.3" stroke="none"/>
<path d="M1465.3,1610.1C1466.2,1584.7 1467.1,1558.9 1467.9,1545.4C1469.7,1518.5 1471.4,1500.4 1473.2,1479.4C1475.8,1447.9 1478.4,1412.4 1481.1,1387C1483.7,1361.2 1486.4,1340.4 1489,1321.1C1491.7,1302 1494.3,1283.2 1496.9,1268.3C1499.6,1253.3 1502.2,1238.4 1504.9,1228.7C1507.5,1219.1 1510.1,1209.8 1512.8,1205C1516.3,1198.6 1519.8,1193.7 1523.4,1189.2C1528.6,1182.5 1533.9,1177.8 1539.2,1170.7C1544.5,1163.6 1549.7,1154.4 1555,1146.9C1560.2,1139.4 1565.5,1130.3 1570.8,1125.8C1576.5,1120.9 1582.3,1118.4 1588,1119C1594.3,1119.7 1600.6,1128.3 1606.9,1136.1C1612.4,1142.9 1617.8,1156.5 1623.3,1172C1627.7,1184.3 1632,1204.2 1636.3,1221C1640.7,1237.9 1645,1254.9 1649.4,1273.3C1653.7,1291.7 1658.1,1314.9 1662.4,1332.1C1666.8,1349.3 1671.2,1365.4 1675.5,1377.8C1679.9,1390.2 1684.2,1399.1 1688.6,1410.4C1695.1,1427.4 1701.7,1444.7 1708.2,1462.7C1714.8,1480.6 1721.3,1499.6 1727.8,1518.2C1734.3,1536.6 1740.8,1553.3 1747.3,1573.7C1752.8,1590.9 1758.3,1611.8 1763.7,1632.4C1770.2,1657 1776.8,1687 1783.3,1710.2C1789,1730.5 1794.7,1751 1800.4,1764.7C1805.7,1777.3 1811,1786.8 1816.2,1796.4C1822.4,1807.5 1828.6,1818.2 1834.7,1828C1841.7,1839.2 1848.8,1849.2 1855.8,1859.7C1862.8,1870.3 1869.9,1880.8 1876.9,1891.3C1884,1901.9 1891,1914.4 1898,1923C1905.1,1931.5 1912.1,1938 1919.1,1944.1C1926.2,1950.2 1933.2,1953.1 1940.2,1959.9C1944.4,1964 1948.6,1971.4 1952.8,1975.8C1961.6,1985.1 1970.4,1994 1979.2,1999.5C1988,2004.9 1996.7,2009.5 2005.5,2012.7C2014.3,2015.8 2023.1,2017.4 2031.9,2020.6C2040.7,2023.8 2049.5,2027.7 2058.3,2031.2C2067.1,2034.7 2075.9,2040.3 2084.7,2041.7C2093.5,2043.1 2102.3,2043.5 2111.1,2044.4C2119.9,2045.3 2128.7,2045.8 2137.5,2047C2146.3,2048.2 2155.1,2051.9 2163.9,2053.6C2172.7,2055.2 2181.4,2056.4 2190.2,2057.6C2203.4,2059.4 2216.6,2061.7 2229.8,2062.8C2243,2064 2256.2,2064.7 2269.4,2065.5C2278.2,2066 2286.9,2066 2295.7,2066.8C2304.2,2067.5 2312.6,2071.8 2321,2072.5C2334,2073.6 2346.9,2074.3 2359.9,2074.4L2437.7,2074.4" fill="none" stroke="#F5574B" stroke-width="2.8" stroke-linejoin="round"/>
<path d="M1465.3,1548.9C1467.1,1476.5 1468.9,1407.9 1470.6,1347.5C1472.4,1289.3 1474.1,1219 1475.8,1189.2C1477.3,1162.8 1478.8,1143.3 1480.4,1133.3C1481.3,1127.2 1482.3,1118.3 1483.2,1119C1485.1,1120.3 1487.1,1135.3 1489,1149.6C1490.8,1162.4 1492.5,1182.7 1494.3,1202.3C1496.1,1222.2 1497.8,1246.1 1499.6,1268.3C1501.4,1290.1 1503.1,1312.3 1504.9,1334.3C1506.6,1356.2 1508.4,1380.5 1510.1,1400.2C1511.9,1419.9 1513.6,1439.4 1515.4,1453C1518,1473.6 1520.7,1488.1 1523.4,1505.8C1526,1523.3 1528.6,1539.7 1531.2,1558.5C1533.4,1574.3 1535.6,1595.8 1537.8,1610C1540,1624 1542.2,1634.7 1544.4,1646C1548.8,1668.8 1553.2,1689.9 1557.6,1711.9C1562,1733.9 1566.4,1755.9 1570.8,1777.9C1575.2,1799.9 1579.6,1826 1584,1843.9C1589.3,1865.1 1594.5,1881.8 1599.8,1896.6C1605.9,1914 1612.1,1929.9 1618.3,1944.1C1625.3,1960.3 1632.3,1976.7 1639.4,1989C1644.6,1998.2 1649.9,2006.7 1655.2,2012.7C1659.6,2017.7 1664,2017.7 1668.4,2023.3C1672,2027.8 1675.5,2036 1679,2041.7C1682.6,2047.4 1686.1,2055.2 1689.6,2057.6C1693.1,2060 1696.6,2061.9 1700.1,2061.5C1707.2,2060.8 1714.2,2053.9 1721.2,2054.9C1726.5,2055.6 1731.7,2060.7 1737,2062.8C1745.8,2066.4 1754.6,2070.8 1763.4,2072.1C1771,2073.3 1778.6,2074.2 1786.2,2074.4L2437.7,2074.4L2437.7,2074.4L1465.3,2074.4Z" fill="#A3A500" fill-opacity="0.3" stroke="none"/>
<path d="M1465.3,1548.9C1467.1,1476.5 1468.9,1407.9 1470.6,1347.5C1472.4,1289.3 1474.1,1219 1475.8,1189.2C1477.3,1162.8 1478.8,1143.3 1480.4,1133.3C1481.3,1127.2 1482.3,1118.3 1483.2,1119C1485.1,1120.3 1487.1,1135.3 1489,1149.6C1490.8,1162.4 1492.5,1182.7 1494.3,1202.3C1496.1,1222.2 1497.8,1246.1 1499.6,1268.3C1501.4,1290.1 1503.1,1312.3 1504.9,1334.3C1506.6,1356.2 1508.4,1380.5 1510.1,1400.2C1511.9,1419.9 1513.6,1439.4 1515.4,1453C1518,1473.6 1520.7,1488.1 1523.4,1505.8C1526,1523.3 1528.6,1539.7 1531.2,1558.5C1533.4,1574.3 1535.6,1595.8 1537.8,1610C1540,1624 1542.2,1634.7 1544.4,1646C1548.8,1668.8 1553.2,1689.9 1557.6,1711.9C1562,1733.9 1566.4,1755.9 1570.8,1777.9C1575.2,1799.9 1579.6,1826 1584,1843.9C1589.3,1865.1 1594.5,1881.8 1599.8,1896.6C1605.9,1914 1612.1,1929.9 1618.3,1944.1C1625.3,1960.3 1632.3,1976.7 1639.4,1989C1644.6,1998.2 1649.9,2006.7 1655.2,2012.7C1659.6,2017.7 1664,2017.7 1668.4,2023.3C1672,2027.8 1675.5,2036 1679,2041.7C1682.6,2047.4 1686.1,2055.2 1689.6,2057.6C1693.1,2060 1696.6,2061.9 1700.1,2061.5C1707.2,2060.8 1714.2,2053.9 1721.2,2054.9C1726.5,2055.6 1731.7,2060.7 1737,2062.8C1745.8,2066.4 1754.6,2070.8 1763.4,2072.1C1771,2073.3 1778.6,2074.2 1786.2,2074.4L2437.7,2074.4" fill="none" stroke="#A0A000" stroke-width="2.8" stroke-linejoin="round"/>
<path d="M1465.3,1548.9C1467.2,1457.4 1469.2,1368.7 1471.1,1310.1C1473.1,1251.5 1475,1185 1477,1166.8C1479.7,1141.5 1482.3,1112.8 1485,1119C1488.1,1126.1 1491.2,1142 1494.3,1162.8C1496.9,1180.7 1499.6,1206.5 1502.3,1228.7C1504.9,1250.5 1507.5,1274.1 1510.1,1294.7C1512.8,1315.3 1515.4,1335.5 1518,1352.7C1520.7,1370.1 1523.3,1385.9 1526,1400.2C1529.5,1419 1533,1435.5 1536.5,1453C1540,1470.7 1543.5,1488.2 1547.1,1505.8C1550.6,1523.3 1554.1,1541.2 1557.6,1558.5C1560.2,1571.4 1562.8,1585.4 1565.5,1596.7C1569.9,1615.7 1574.3,1626.9 1578.7,1646C1584,1669.1 1589.3,1701.5 1594.6,1725.1C1599,1744.5 1603.4,1762.1 1607.8,1777.9C1613,1797 1618.3,1815.8 1623.6,1830.7C1628.9,1845.4 1634.1,1857.1 1639.4,1870.2C1644.6,1883.4 1649.9,1896.3 1655.2,1909.8C1659.6,1921 1664,1932.9 1668.4,1944.1C1672,1953.1 1675.5,1961.8 1679,1970.5C1683.4,1981.2 1687.8,1996.5 1692.2,2002.2C1698.4,2010.1 1704.5,2013.9 1710.7,2018C1717.8,2022.7 1724.8,2027.1 1731.8,2031.2C1738,2034.8 1744.1,2038.4 1750.2,2041.7C1759,2046.4 1767.8,2052.5 1776.6,2054.9C1785.4,2057.4 1794.2,2058.6 1803,2060.2C1816.2,2062.5 1829.4,2065.5 1842.6,2066.8C1856.2,2068.1 1869.8,2069 1883.4,2069.6C1906.1,2070.7 1928.8,2071.6 1951.5,2072.5C1967.7,2073.1 1983.9,2074 2000.1,2074.4L2437.7,2074.4L2437.7,2074.4L1465.3,2074.4Z" fill="#00BF7D" fill-opacity="0.3" stroke="none"/>
<path d="M1465.3,1548.9C1467.2,1457.4 1469.2,1368.7 1471.1,1310.1C1473.1,1251.5 1475,1185 1477,1166.8C1479.7,1141.5 1482.3,1112.8 1485,1119C1488.1,1126.1 1491.2,1142 1494.3,1162.8C1496.9,1180.7 1499.6,1206.5 1502.3,1228.7C1504.9,1250.5 1507.5,1274.1 1510.1,1294.7C1512.8,1315.3 1515.4,1335.5 1518,1352.7C1520.7,1370.1 1523.3,1385.9 1526,1400.2C1529.5,1419 1533,1435.5 1536.5,1453C1540,1470.7 1543.5,1488.2 1547.1,1505.8C1550.6,1523.3 1554.1,1541.2 1557.6,1558.5C1560.2,1571.4 1562.8,1585.4 1565.5,1596.7C1569.9,1615.7 1574.3,1626.9 1578.7,1646C1584,1669.1 1589.3,1701.5 1594.6,1725.1C1599,1744.5 1603.4,1762.1 1607.8,1777.9C1613,1797 1618.3,1815.8 1623.6,1830.7C1628.9,1845.4 1634.1,1857.1 1639.4,1870.2C1644.6,1883.4 1649.9,1896.3 1655.2,1909.8C1659.6,1921 1664,1932.9 1668.4,1944.1C1672,1953.1 1675.5,1961.8 1679,1970.5C1683.4,1981.2 1687.8,1996.5 1692.2,2002.2C1698.4,2010.1 1704.5,2013.9 1710.7,2018C1717.8,2022.7 1724.8,2027.1 1731.8,2031.2C1738,2034.8 1744.1,2038.4 1750.2,2041.7C1759,2046.4 1767.8,2052.5 1776.6,2054.9C1785.4,2057.4 1794.2,2058.6 1803,2060.2C1816.2,2062.5 1829.4,2065.5 1842.6,2066.8C1856.2,2068.1 1869.8,2069 1883.4,2069.6C1906.1,2070.7 1928.8,2071.6 1951.5,2072.5C1967.7,2073.1 1983.9,2074 2000.1,2074.4L2437.7,2074.4" fill="none" stroke="#00B36E" stroke-width="2.8" stroke-linejoin="round"/>
<path d="M1465.3,2052.3C1474.1,2049.2 1482.9,2046.2 1491.7,2044.4C1501.3,2042.4 1511,2039.7 1520.7,2040.4C1529.5,2041 1538.3,2044.2 1547.1,2045.7C1555.9,2047.3 1564.7,2049 1573.5,2049.7C1582.3,2050.3 1591,2048 1599.8,2045.7C1608.6,2043.4 1617.4,2036.7 1626.2,2031.2C1635,2025.7 1643.8,2017.9 1652.6,2012.7C1661.4,2007.4 1670.2,2001.4 1679,1999.5C1685.2,1998.1 1691.4,1997.2 1697.5,1996.9C1706.3,1996.5 1715.1,1998.4 1723.9,1998.2C1729.1,1998 1734.4,1994.5 1739.7,1991.6C1745,1988.6 1750.2,1982.6 1755.5,1975.8C1760.7,1969 1766,1958.1 1771.3,1949.4C1778.4,1937.9 1785.4,1926 1792.5,1915.1C1800.4,1902.9 1808.3,1893.9 1816.2,1880.8C1822.4,1870.6 1828.6,1857.7 1834.7,1843.9C1840,1832.1 1845.2,1817.5 1850.5,1804.3C1855.8,1791.1 1861,1778.7 1866.3,1764.7C1871.6,1750.6 1876.9,1734.9 1882.2,1719.8C1888.4,1701.9 1894.6,1684.7 1900.8,1665.1C1906.3,1648.1 1911.7,1630 1917.1,1606.3C1921.5,1587.1 1925.8,1557.2 1930.2,1534.5C1934.6,1511.8 1939,1491.1 1943.3,1469.2C1947.6,1447.5 1952,1424.8 1956.3,1403.9C1959.5,1388 1962.8,1372.3 1966.1,1358.2C1969.4,1344.2 1972.6,1330.2 1975.9,1319C1980.3,1304 1984.7,1287.8 1989,1279.8C1995.5,1267.8 2002.1,1263.9 2008.6,1253.7C2012.9,1246.9 2017.3,1239.9 2021.6,1230.8C2026,1221.5 2030.4,1207.8 2034.7,1194.9C2039.1,1182 2043.4,1163 2047.8,1152.4C2054.3,1136.5 2060.8,1118.4 2067.3,1119C2072.2,1119.5 2077.2,1128.4 2082.1,1136.4C2086.5,1143.5 2090.9,1153.1 2095.3,1162.8C2099.7,1172.4 2104.1,1183.8 2108.4,1194.4C2112.8,1204.9 2117.2,1214.9 2121.6,1226.1C2126,1237.4 2130.4,1249.5 2134.8,1263C2138.3,1273.8 2141.9,1286.6 2145.4,1300C2148,1310 2150.6,1320.9 2153.3,1334.3C2155.5,1345.4 2157.7,1360.7 2159.9,1373.9C2162.1,1387.1 2164.3,1400.2 2166.5,1413.4C2168.7,1426.5 2170.9,1439.8 2173.1,1453C2175.3,1466.2 2177.5,1479.4 2179.7,1492.6C2181.9,1505.8 2184.1,1517.3 2186.3,1532.2C2188.3,1545.3 2190.2,1563.3 2192.2,1577.6C2193.7,1589 2195.3,1600.5 2196.8,1610C2199,1623.5 2201.2,1633.1 2203.4,1646C2207,1666.7 2210.5,1692.3 2214,1711.9C2217.5,1731.3 2221,1747.2 2224.5,1764.7C2228.1,1782.3 2231.6,1800.7 2235.1,1817.5C2238.6,1834.1 2242.2,1851.3 2245.7,1865C2249.2,1878.8 2252.7,1890.1 2256.3,1901.9C2260.6,1916.4 2265,1933.3 2269.4,1944.1C2273.8,1955 2278.2,1963.5 2282.6,1970.5C2288.8,1980.2 2294.9,1988.3 2301.1,1996.9C2308.1,2006.7 2315.1,2017.1 2322.2,2025.9C2329.2,2034.6 2336.2,2043.3 2343.3,2049.7C2350.3,2056 2357.3,2062.8 2364.4,2065.5C2372.3,2068.5 2380.2,2071 2388.1,2072.1C2394.9,2073 2401.7,2074.2 2408.5,2074.4L2437.7,2074.4L2437.7,2074.4L1465.3,2074.4Z" fill="#00B0F6" fill-opacity="0.3" stroke="none"/>
<path d="M1465.3,2052.3C1474.1,2049.2 1482.9,2046.2 1491.7,2044.4C1501.3,2042.4 1511,2039.7 1520.7,2040.4C1529.5,2041 1538.3,2044.2 1547.1,2045.7C1555.9,2047.3 1564.7,2049 1573.5,2049.7C1582.3,2050.3 1591,2048 1599.8,2045.7C1608.6,2043.4 1617.4,2036.7 1626.2,2031.2C1635,2025.7 1643.8,2017.9 1652.6,2012.7C1661.4,2007.4 1670.2,2001.4 1679,1999.5C1685.2,1998.1 1691.4,1997.2 1697.5,1996.9C1706.3,1996.5 1715.1,1998.4 1723.9,1998.2C1729.1,1998 1734.4,1994.5 1739.7,1991.6C1745,1988.6 1750.2,1982.6 1755.5,1975.8C1760.7,1969 1766,1958.1 1771.3,1949.4C1778.4,1937.9 1785.4,1926 1792.5,1915.1C1800.4,1902.9 1808.3,1893.9 1816.2,1880.8C1822.4,1870.6 1828.6,1857.7 1834.7,1843.9C1840,1832.1 1845.2,1817.5 1850.5,1804.3C1855.8,1791.1 1861,1778.7 1866.3,1764.7C1871.6,1750.6 1876.9,1734.9 1882.2,1719.8C1888.4,1701.9 1894.6,1684.7 1900.8,1665.1C1906.3,1648.1 1911.7,1630 1917.1,1606.3C1921.5,1587.1 1925.8,1557.2 1930.2,1534.5C1934.6,1511.8 1939,1491.1 1943.3,1469.2C1947.6,1447.5 1952,1424.8 1956.3,1403.9C1959.5,1388 1962.8,1372.3 1966.1,1358.2C1969.4,1344.2 1972.6,1330.2 1975.9,1319C1980.3,1304 1984.7,1287.8 1989,1279.8C1995.5,1267.8 2002.1,1263.9 2008.6,1253.7C2012.9,1246.9 2017.3,1239.9 2021.6,1230.8C2026,1221.5 2030.4,1207.8 2034.7,1194.9C2039.1,1182 2043.4,1163 2047.8,1152.4C2054.3,1136.5 2060.8,1118.4 2067.3,1119C2072.2,1119.5 2077.2,1128.4 2082.1,1136.4C2086.5,1143.5 2090.9,1153.1 2095.3,1162.8C2099.7,1172.4 2104.1,1183.8 2108.4,1194.4C2112.8,1204.9 2117.2,1214.9 2121.6,1226.1C2126,1237.4 2130.4,1249.5 2134.8,1263C2138.3,1273.8 2141.9,1286.6 2145.4,1300C2148,1310 2150.6,1320.9 2153.3,1334.3C2155.5,1345.4 2157.7,1360.7 2159.9,1373.9C2162.1,1387.1 2164.3,1400.2 2166.5,1413.4C2168.7,1426.5 2170.9,1439.8 2173.1,1453C2175.3,1466.2 2177.5,1479.4 2179.7,1492.6C2181.9,1505.8 2184.1,1517.3 2186.3,1532.2C2188.3,1545.3 2190.2,1563.3 2192.2,1577.6C2193.7,1589 2195.3,1600.5 2196.8,1610C2199,1623.5 2201.2,1633.1 2203.4,1646C2207,1666.7 2210.5,1692.3 2214,1711.9C2217.5,1731.3 2221,1747.2 2224.5,1764.7C2228.1,1782.3 2231.6,1800.7 2235.1,1817.5C2238.6,1834.1 2242.2,1851.3 2245.7,1865C2249.2,1878.8 2252.7,1890.1 2256.3,1901.9C2260.6,1916.4 2265,1933.3 2269.4,1944.1C2273.8,1955 2278.2,1963.5 2282.6,1970.5C2288.8,1980.2 2294.9,1988.3 2301.1,1996.9C2308.1,2006.7 2315.1,2017.1 2322.2,2025.9C2329.2,2034.6 2336.2,2043.3 2343.3,2049.7C2350.3,2056 2357.3,2062.8 2364.4,2065.5C2372.3,2068.5 2380.2,2071 2388.1,2072.1C2394.9,2073 2401.7,2074.2 2408.5,2074.4L2437.7,2074.4" fill="none" stroke="#00A8F0" stroke-width="2.8" stroke-linejoin="round"/>
<path d="M1465.3,1548C1467.1,1472.9 1468.9,1401 1470.6,1347.5C1472.4,1296 1474.1,1242.8 1475.8,1215.5C1478,1180.4 1480.2,1143.5 1482.4,1135.3C1484.6,1127.2 1486.8,1117.2 1489,1119C1491.7,1121.1 1494.3,1126.4 1496.9,1135.3C1499.6,1144.4 1502.2,1161.7 1504.9,1176C1507.5,1190.2 1510.1,1204.9 1512.8,1220.8C1515.4,1237 1518.1,1254.7 1520.7,1273.6C1523.4,1292.2 1526,1313.2 1528.6,1334.3C1531.2,1355.3 1533.9,1380.6 1536.5,1400.2C1539.1,1419.7 1541.7,1436.6 1544.4,1453C1547,1469.6 1549.7,1485.1 1552.3,1500.5C1555,1515.9 1557.6,1530.1 1560.3,1545.4C1562.9,1560.5 1565.6,1578.9 1568.2,1591.9C1572.6,1613.8 1577,1625.7 1581.4,1646C1586.7,1670.2 1591.9,1701.1 1597.2,1725.1C1602.4,1749.2 1607.7,1773 1613,1791.1C1618.3,1809.3 1623.6,1825 1628.9,1838.6C1634.1,1852.2 1639.4,1862.5 1644.7,1875.5C1650.9,1890.6 1657,1909 1663.2,1923C1668.5,1934.9 1673.8,1943.5 1679,1954.7C1683.4,1963.9 1687.8,1974.9 1692.2,1983.7C1697.4,1994.4 1702.7,2006.6 1708,2012.7C1715,2020.8 1722.1,2026.4 1729.1,2031.2C1736.1,2036 1743.2,2041 1750.2,2044.4C1759,2048.6 1767.8,2053.2 1776.6,2054.9C1785.4,2056.6 1794.2,2054.3 1803,2056.2C1811.8,2058.1 1820.6,2064.1 1829.4,2065.5C1844.1,2068 1858.9,2069.6 1873.7,2070.6C1889.9,2071.7 1906.1,2072.8 1922.3,2073.4C1932.1,2073.8 1941.8,2074.3 1951.5,2074.4L2437.7,2074.4L2437.7,2074.4L1465.3,2074.4Z" fill="#E76BF3" fill-opacity="0.3" stroke="none"/>
<path d="M1465.3,1548C1467.1,1472.9 1468.9,1401 1470.6,1347.5C1472.4,1296 1474.1,1242.8 1475.8,1215.5C1478,1180.4 1480.2,1143.5 1482.4,1135.3C1484.6,1127.2 1486.8,1117.2 1489,1119C1491.7,1121.1 1494.3,1126.4 1496.9,1135.3C1499.6,1144.4 1502.2,1161.7 1504.9,1176C1507.5,1190.2 1510.1,1204.9 1512.8,1220.8C1515.4,1237 1518.1,1254.7 1520.7,1273.6C1523.4,1292.2 1526,1313.2 1528.6,1334.3C1531.2,1355.3 1533.9,1380.6 1536.5,1400.2C1539.1,1419.7 1541.7,1436.6 1544.4,1453C1547,1469.6 1549.7,1485.1 1552.3,1500.5C1555,1515.9 1557.6,1530.1 1560.3,1545.4C1562.9,1560.5 1565.6,1578.9 1568.2,1591.9C1572.6,1613.8 1577,1625.7 1581.4,1646C1586.7,1670.2 1591.9,1701.1 1597.2,1725.1C1602.4,1749.2 1607.7,1773 1613,1791.1C1618.3,1809.3 1623.6,1825 1628.9,1838.6C1634.1,1852.2 1639.4,1862.5 1644.7,1875.5C1650.9,1890.6 1657,1909 1663.2,1923C1668.5,1934.9 1673.8,1943.5 1679,1954.7C1683.4,1963.9 1687.8,1974.9 1692.2,1983.7C1697.4,1994.4 1702.7,2006.6 1708,2012.7C1715,2020.8 1722.1,2026.4 1729.1,2031.2C1736.1,2036 1743.2,2041 1750.2,2044.4C1759,2048.6 1767.8,2053.2 1776.6,2054.9C1785.4,2056.6 1794.2,2054.3 1803,2056.2C1811.8,2058.1 1820.6,2064.1 1829.4,2065.5C1844.1,2068 1858.9,2069.6 1873.7,2070.6C1889.9,2071.7 1906.1,2072.8 1922.3,2073.4C1932.1,2073.8 1941.8,2074.3 1951.5,2074.4L2437.7,2074.4" fill="none" stroke="#F046F5" stroke-width="2.8" stroke-linejoin="round"/>
</g>
<rect x="2178" y="1154" width="282" height="129" fill="#fff"/>
<text x="2213.5" y="1243.2" class="pl">SS(II)</text>
<rect x="1418" y="1072.5" width="1069" height="1049.0" fill="none" stroke="#000" stroke-width="2.6"/>
<path d="M1408,2074.4H1418M1465.3,2121.5V2129.5M1408,1835.6H1418M1708.4,2121.5V2129.5M1408,1596.7H1418M1951.5,2121.5V2129.5M1408,1357.9H1418M2194.6,2121.5V2129.5M1408,1119H1418M2437.7,2121.5V2129.5" stroke="#000" stroke-width="2.6" fill="none"/>
<text transform="translate(170.7,75) scale(0.94,1)" class="tk">1.00</text>
<text transform="translate(170.7,311) scale(0.94,1)" class="tk">0.75</text>
<text transform="translate(170.7,547) scale(0.94,1)" class="tk">0.50</text>
<text transform="translate(170.7,783.5) scale(0.94,1)" class="tk">0.25</text>
<text transform="translate(170.7,1019.5) scale(0.94,1)" class="tk">00.0</text>
<text transform="translate(164.7,1158.2) scale(0.94,1)" class="tk">1.00</text>
<text transform="translate(164.7,1394.2) scale(0.94,1)" class="tk">0.75</text>
<text transform="translate(164.7,1630.2) scale(0.94,1)" class="tk">0.50</text>
<text transform="translate(164.7,1866.8) scale(0.94,1)" class="tk">0.25</text>
<text transform="translate(164.7,2102.7) scale(0.94,1)" class="tk">0.00</text>
<text transform="translate(321.1,2210.6) scale(0.99,1)" class="tx">0.00</text>
<text transform="translate(552.6,2210.6) scale(0.99,1)" class="tx">0.25</text>
<text transform="translate(813.6,2210.6) scale(0.99,1)" class="tx">0.50</text>
<text transform="translate(1045.6,2210.6) scale(0.99,1)" class="tx">0.75</text>
<text transform="translate(1276.7,2210.6) scale(0.99,1)" class="tx">1.00</text>
<text transform="translate(1445.6,2210.6) scale(0.99,1)" class="tx">0.00</text>
<text transform="translate(1677.2,2210.6) scale(0.99,1)" class="tx">0.25</text>
<text transform="translate(1937.4,2210.6) scale(0.99,1)" class="tx">0.50</text>
<text transform="translate(2168.5,2210.6) scale(0.99,1)" class="tx">0.75</text>
<text transform="translate(2401.3,2210.6) scale(0.99,1)" class="tx">1.00</text>
<text x="1160.7" y="2298.9" class="ti">Proportion of Diet</text>
<text transform="translate(53.4,1403.4) rotate(-90)" class="yt">Scaled Posterior Density</text>
<rect x="508.5" y="2344.4" width="66.20000000000005" height="65.40000000000009" fill="#F8766D" fill-opacity="0.3" stroke="#F5574B" stroke-width="4"/>
<rect x="512.5" y="2348.4" width="58.200000000000045" height="57.40000000000009" fill="none" stroke="#fff" stroke-opacity="0.45" stroke-width="3"/>
<text x="623.1" y="2399.6" class="lg">Macroalgae</text>
<rect x="952.2" y="2344" width="63.799999999999955" height="66" fill="#A3A500" fill-opacity="0.3" stroke="#A0A000" stroke-width="4"/>
<rect x="956.2" y="2348" width="55.799999999999955" height="58" fill="none" stroke="#fff" stroke-opacity="0.45" stroke-width="3"/>
<text x="1074.9" y="2405.7" class="lg">MPB</text>
<rect x="1242.2" y="2345.5" width="63.59999999999991" height="63.09999999999991" fill="#00BF7D" fill-opacity="0.3" stroke="#00B36E" stroke-width="4"/>
<rect x="1246.2" y="2349.5" width="55.59999999999991" height="55.09999999999991" fill="none" stroke="#fff" stroke-opacity="0.45" stroke-width="3"/>
<text x="1345.5" y="2397.8" class="lg">Phytoplankton</text>
<rect x="1747" y="2344.5" width="63.90000000000009" height="64.5" fill="#00B0F6" fill-opacity="0.3" stroke="#00A8F0" stroke-width="4"/>
<rect x="1751" y="2348.5" width="55.90000000000009" height="56.5" fill="none" stroke="#fff" stroke-opacity="0.45" stroke-width="3"/>
<text x="1858.8" y="2396.8" class="lg">Spartina</text>
<rect x="2120.6" y="2344.5" width="66.30000000000018" height="64.5" fill="#E76BF3" fill-opacity="0.3" stroke="#F046F5" stroke-width="4"/>
<rect x="2124.6" y="2348.5" width="58.30000000000018" height="56.5" fill="none" stroke="#fff" stroke-opacity="0.45" stroke-width="3"/>
<text x="2257.4" y="2395.7" class="lg">TOM</text>
</svg>
</body></html>
